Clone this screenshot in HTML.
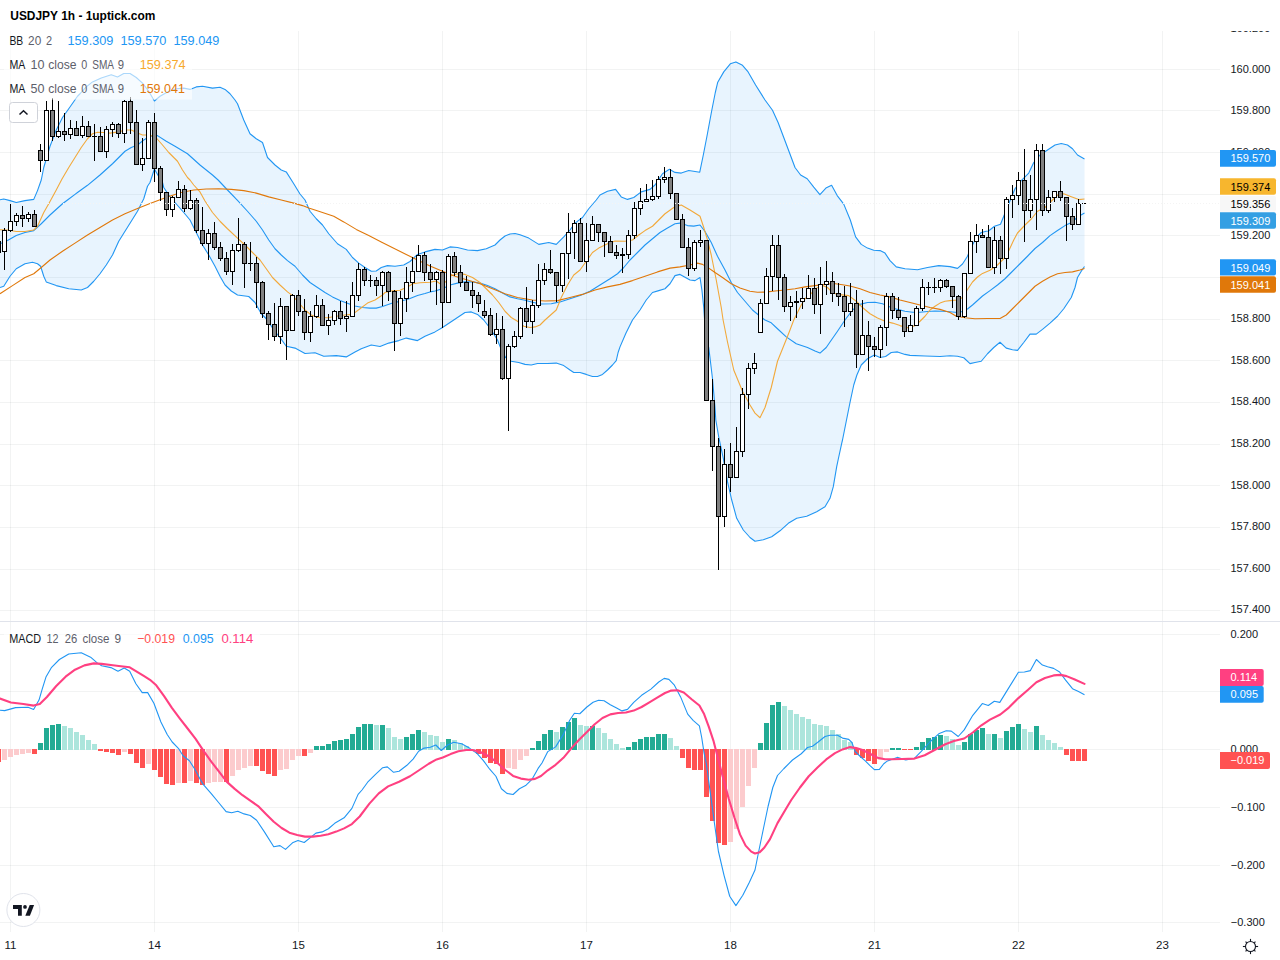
<!DOCTYPE html>
<html><head><meta charset="utf-8"><title>USDJPY 1h</title>
<style>html,body{margin:0;padding:0;background:#fff;width:1280px;height:960px;overflow:hidden;font-family:"Liberation Sans", sans-serif}</style>
</head><body>
<svg width="1280" height="960" viewBox="0 0 1280 960" style="position:absolute;left:0;top:0;font-family:"Liberation Sans", sans-serif">
<rect x="0" y="0" width="1280" height="960" fill="#ffffff"/>
<defs><clipPath id="cm"><rect x="0" y="31" width="1220" height="590"/></clipPath><clipPath id="cd"><rect x="0" y="622" width="1220" height="310"/></clipPath><clipPath id="ca"><rect x="1220" y="31" width="60" height="590"/></clipPath></defs>
<rect x="10" y="31" width="1" height="901" fill="#2a2e39" fill-opacity="0.06"/>
<rect x="154" y="31" width="1" height="901" fill="#2a2e39" fill-opacity="0.06"/>
<rect x="298" y="31" width="1" height="901" fill="#2a2e39" fill-opacity="0.06"/>
<rect x="442" y="31" width="1" height="901" fill="#2a2e39" fill-opacity="0.06"/>
<rect x="586" y="31" width="1" height="901" fill="#2a2e39" fill-opacity="0.06"/>
<rect x="730" y="31" width="1" height="901" fill="#2a2e39" fill-opacity="0.06"/>
<rect x="874" y="31" width="1" height="901" fill="#2a2e39" fill-opacity="0.06"/>
<rect x="1018" y="31" width="1" height="901" fill="#2a2e39" fill-opacity="0.06"/>
<rect x="1162" y="31" width="1" height="901" fill="#2a2e39" fill-opacity="0.06"/>
<rect x="0" y="69" width="1220" height="1" fill="#2a2e39" fill-opacity="0.06"/>
<rect x="0" y="110" width="1220" height="1" fill="#2a2e39" fill-opacity="0.06"/>
<rect x="0" y="152" width="1220" height="1" fill="#2a2e39" fill-opacity="0.06"/>
<rect x="0" y="194" width="1220" height="1" fill="#2a2e39" fill-opacity="0.06"/>
<rect x="0" y="235" width="1220" height="1" fill="#2a2e39" fill-opacity="0.06"/>
<rect x="0" y="277" width="1220" height="1" fill="#2a2e39" fill-opacity="0.06"/>
<rect x="0" y="319" width="1220" height="1" fill="#2a2e39" fill-opacity="0.06"/>
<rect x="0" y="360" width="1220" height="1" fill="#2a2e39" fill-opacity="0.06"/>
<rect x="0" y="402" width="1220" height="1" fill="#2a2e39" fill-opacity="0.06"/>
<rect x="0" y="444" width="1220" height="1" fill="#2a2e39" fill-opacity="0.06"/>
<rect x="0" y="485" width="1220" height="1" fill="#2a2e39" fill-opacity="0.06"/>
<rect x="0" y="527" width="1220" height="1" fill="#2a2e39" fill-opacity="0.06"/>
<rect x="0" y="569" width="1220" height="1" fill="#2a2e39" fill-opacity="0.06"/>
<rect x="0" y="610" width="1220" height="1" fill="#2a2e39" fill-opacity="0.06"/>
<rect x="0" y="634" width="1220" height="1" fill="#2a2e39" fill-opacity="0.06"/>
<rect x="0" y="691" width="1220" height="1" fill="#2a2e39" fill-opacity="0.06"/>
<rect x="0" y="749" width="1220" height="1" fill="#2a2e39" fill-opacity="0.06"/>
<rect x="0" y="807" width="1220" height="1" fill="#2a2e39" fill-opacity="0.06"/>
<rect x="0" y="865" width="1220" height="1" fill="#2a2e39" fill-opacity="0.06"/>
<rect x="0" y="922" width="1220" height="1" fill="#2a2e39" fill-opacity="0.06"/>
<rect x="0" y="621" width="1280" height="1" fill="#e0e3eb"/>
<g clip-path="url(#cm)">
<path d="M0.00,199.75 L3.75,199.00 L10.00,200.60 L16.25,202.50 L25.00,200.60 L33.75,199.40 L37.50,190.60 L41.25,180.00 L43.75,167.50 L50.00,146.25 L56.25,130.00 L62.50,117.50 L68.75,108.75 L77.50,96.25 L80.00,93.75 L86.25,86.90 L92.50,81.90 L101.25,78.10 L111.25,74.75 L117.50,76.90 L123.75,73.50 L130.00,73.50 L136.25,77.50 L142.50,83.10 L148.75,91.25 L154.40,101.00 L160.00,96.25 L167.50,91.90 L176.25,88.75 L183.75,88.10 L190.00,89.40 L196.25,86.90 L202.50,86.25 L212.50,88.10 L220.00,87.25 L225.00,89.40 L230.00,93.75 L235.00,100.00 L237.50,103.75 L243.75,120.00 L250.00,133.75 L256.25,138.75 L262.50,142.50 L267.50,157.50 L275.00,165.00 L281.25,170.00 L286.25,171.90 L293.75,183.75 L300.00,194.00 L305.00,200.00 L310.00,211.25 L316.25,218.75 L322.50,225.00 L328.75,233.75 L337.50,243.75 L346.25,249.40 L352.50,257.50 L358.75,263.10 L365.00,267.50 L371.25,271.25 L376.25,271.00 L381.25,267.50 L387.50,265.60 L395.00,266.25 L403.75,265.00 L410.00,261.50 L417.50,254.40 L425.00,251.90 L435.00,249.40 L442.50,250.00 L450.00,246.90 L457.50,247.50 L467.50,250.00 L477.50,250.60 L486.25,248.75 L495.00,245.00 L500.00,240.00 L505.00,236.00 L510.00,234.00 L515.00,233.50 L520.00,234.75 L528.75,238.10 L538.75,244.40 L548.75,242.50 L556.25,244.40 L563.75,236.90 L570.00,230.00 L575.00,223.10 L582.50,217.50 L588.75,208.75 L596.25,200.00 L600.00,195.00 L607.50,191.25 L615.60,189.40 L621.25,196.90 L627.50,199.40 L633.75,197.50 L641.25,191.90 L650.00,189.40 L655.00,185.00 L662.50,173.75 L669.40,169.20 L675.00,172.40 L681.25,173.10 L688.75,170.50 L699.75,172.20 L703.40,154.50 L706.90,136.50 L711.60,111.25 L715.30,92.50 L717.75,82.20 L723.75,71.90 L730.30,63.80 L735.90,61.90 L742.50,65.30 L748.10,71.90 L755.60,85.00 L765.00,100.00 L772.50,110.30 L778.10,122.50 L783.75,137.50 L789.40,152.50 L795.00,167.50 L800.60,175.00 L807.20,178.75 L813.75,187.20 L819.90,194.70 L825.90,188.10 L831.60,185.30 L837.20,195.60 L843.75,204.10 L850.30,220.00 L855.60,236.90 L861.25,244.40 L867.50,248.10 L873.75,250.25 L880.00,250.60 L885.00,253.10 L890.00,260.60 L896.25,266.90 L905.00,268.75 L917.50,269.75 L927.50,267.50 L938.75,265.60 L950.00,266.60 L957.50,268.40 L962.50,264.00 L967.50,256.25 L970.00,250.00 L973.75,242.50 L977.50,236.25 L981.25,232.50 L986.25,231.25 L988.50,231.00 L994.50,226.30 L1000.50,224.20 L1003.75,216.25 L1008.75,203.75 L1015.00,188.75 L1021.25,180.60 L1028.75,173.10 L1033.75,162.50 L1040.00,155.00 L1047.50,150.00 L1055.00,145.00 L1061.25,143.50 L1067.50,145.00 L1072.50,148.75 L1077.50,155.00 L1084.50,158.90 L1084.50,266.50 L1081.25,271.25 L1077.50,277.50 L1075.00,287.50 L1071.25,297.50 L1068.75,301.25 L1063.75,308.75 L1057.50,316.25 L1050.00,323.10 L1042.50,329.40 L1036.25,334.10 L1030.00,334.10 L1023.75,342.50 L1017.50,350.40 L1012.50,349.75 L1006.25,348.10 L1000.00,342.25 L993.75,347.50 L987.50,353.75 L981.25,361.25 L975.00,362.50 L970.00,363.60 L963.75,357.75 L957.50,356.25 L950.00,355.80 L940.00,356.50 L925.00,356.00 L910.00,355.40 L905.00,354.40 L897.50,351.90 L891.25,352.50 L885.60,356.50 L880.00,357.50 L874.40,355.00 L867.50,358.75 L861.25,365.00 L856.90,375.00 L853.75,385.00 L850.00,402.50 L846.25,421.25 L842.50,440.00 L841.70,443.30 L838.10,460.00 L836.70,466.70 L833.30,486.70 L830.00,498.30 L825.00,506.70 L816.70,511.70 L806.70,516.30 L796.70,518.30 L788.30,523.30 L780.00,530.80 L771.70,536.70 L763.30,539.70 L755.00,541.30 L750.00,537.50 L743.30,530.00 L736.70,518.30 L731.70,500.00 L727.50,481.70 L723.30,458.30 L718.75,437.00 L715.80,420.00 L715.00,407.50 L712.50,378.75 L708.75,347.50 L705.80,340.00 L705.00,326.25 L703.75,307.50 L701.90,290.00 L700.00,277.50 L695.00,280.60 L690.00,280.00 L680.00,274.40 L675.00,275.60 L670.00,283.75 L665.00,288.75 L658.75,290.60 L652.50,292.50 L646.25,300.00 L640.00,310.00 L632.50,320.00 L626.00,333.00 L620.00,346.90 L618.10,352.50 L616.25,360.60 L612.50,365.00 L607.50,370.00 L602.50,374.40 L597.50,376.50 L592.50,376.50 L586.25,374.40 L580.00,372.50 L573.75,372.50 L570.00,370.00 L563.75,365.60 L556.25,363.10 L547.50,363.50 L537.50,363.50 L531.25,365.00 L525.00,364.40 L518.75,362.50 L511.25,361.25 L505.60,357.50 L501.25,349.50 L497.50,340.00 L493.75,334.00 L488.75,326.50 L483.75,320.00 L477.50,314.40 L471.25,311.90 L465.00,312.50 L457.50,317.50 L450.00,322.50 L442.50,327.50 L435.00,331.90 L425.00,336.25 L417.50,340.60 L406.25,338.10 L398.75,340.60 L388.75,343.10 L380.00,346.50 L371.25,345.00 L361.25,348.75 L355.00,351.90 L346.25,356.90 L336.25,355.60 L323.75,356.25 L315.00,352.75 L305.00,353.50 L295.00,348.10 L286.25,346.25 L280.00,337.50 L273.75,330.00 L267.50,320.00 L261.25,313.75 L255.00,302.50 L248.75,296.50 L237.50,295.00 L231.25,291.00 L225.00,285.00 L220.00,276.25 L215.00,266.25 L208.75,255.00 L202.50,245.00 L196.25,232.50 L190.00,220.00 L183.75,212.50 L175.00,202.50 L168.75,195.00 L163.75,187.50 L162.50,182.50 L160.00,178.75 L154.40,169.00 L150.00,182.50 L147.50,186.25 L143.75,198.75 L137.50,211.25 L131.25,221.25 L125.00,231.25 L118.75,241.25 L112.50,255.00 L106.25,265.00 L100.00,273.75 L93.75,281.25 L87.50,287.50 L81.25,290.00 L68.75,288.75 L56.25,285.60 L46.25,281.90 L43.75,276.25 L40.60,266.25 L37.50,263.75 L32.50,262.25 L25.00,263.75 L16.25,268.75 L10.00,276.25 L3.75,286.25 L0.00,287.50Z" fill="#2196F3" fill-opacity="0.1" stroke="none"/>
<path d="M0.00,199.75 L3.75,199.00 L10.00,200.60 L16.25,202.50 L25.00,200.60 L33.75,199.40 L37.50,190.60 L41.25,180.00 L43.75,167.50 L50.00,146.25 L56.25,130.00 L62.50,117.50 L68.75,108.75 L77.50,96.25 L80.00,93.75 L86.25,86.90 L92.50,81.90 L101.25,78.10 L111.25,74.75 L117.50,76.90 L123.75,73.50 L130.00,73.50 L136.25,77.50 L142.50,83.10 L148.75,91.25 L154.40,101.00 L160.00,96.25 L167.50,91.90 L176.25,88.75 L183.75,88.10 L190.00,89.40 L196.25,86.90 L202.50,86.25 L212.50,88.10 L220.00,87.25 L225.00,89.40 L230.00,93.75 L235.00,100.00 L237.50,103.75 L243.75,120.00 L250.00,133.75 L256.25,138.75 L262.50,142.50 L267.50,157.50 L275.00,165.00 L281.25,170.00 L286.25,171.90 L293.75,183.75 L300.00,194.00 L305.00,200.00 L310.00,211.25 L316.25,218.75 L322.50,225.00 L328.75,233.75 L337.50,243.75 L346.25,249.40 L352.50,257.50 L358.75,263.10 L365.00,267.50 L371.25,271.25 L376.25,271.00 L381.25,267.50 L387.50,265.60 L395.00,266.25 L403.75,265.00 L410.00,261.50 L417.50,254.40 L425.00,251.90 L435.00,249.40 L442.50,250.00 L450.00,246.90 L457.50,247.50 L467.50,250.00 L477.50,250.60 L486.25,248.75 L495.00,245.00 L500.00,240.00 L505.00,236.00 L510.00,234.00 L515.00,233.50 L520.00,234.75 L528.75,238.10 L538.75,244.40 L548.75,242.50 L556.25,244.40 L563.75,236.90 L570.00,230.00 L575.00,223.10 L582.50,217.50 L588.75,208.75 L596.25,200.00 L600.00,195.00 L607.50,191.25 L615.60,189.40 L621.25,196.90 L627.50,199.40 L633.75,197.50 L641.25,191.90 L650.00,189.40 L655.00,185.00 L662.50,173.75 L669.40,169.20 L675.00,172.40 L681.25,173.10 L688.75,170.50 L699.75,172.20 L703.40,154.50 L706.90,136.50 L711.60,111.25 L715.30,92.50 L717.75,82.20 L723.75,71.90 L730.30,63.80 L735.90,61.90 L742.50,65.30 L748.10,71.90 L755.60,85.00 L765.00,100.00 L772.50,110.30 L778.10,122.50 L783.75,137.50 L789.40,152.50 L795.00,167.50 L800.60,175.00 L807.20,178.75 L813.75,187.20 L819.90,194.70 L825.90,188.10 L831.60,185.30 L837.20,195.60 L843.75,204.10 L850.30,220.00 L855.60,236.90 L861.25,244.40 L867.50,248.10 L873.75,250.25 L880.00,250.60 L885.00,253.10 L890.00,260.60 L896.25,266.90 L905.00,268.75 L917.50,269.75 L927.50,267.50 L938.75,265.60 L950.00,266.60 L957.50,268.40 L962.50,264.00 L967.50,256.25 L970.00,250.00 L973.75,242.50 L977.50,236.25 L981.25,232.50 L986.25,231.25 L988.50,231.00 L994.50,226.30 L1000.50,224.20 L1003.75,216.25 L1008.75,203.75 L1015.00,188.75 L1021.25,180.60 L1028.75,173.10 L1033.75,162.50 L1040.00,155.00 L1047.50,150.00 L1055.00,145.00 L1061.25,143.50 L1067.50,145.00 L1072.50,148.75 L1077.50,155.00 L1084.50,158.90" fill="none" stroke="#2196F3" stroke-width="1.1" stroke-linejoin="round"/>
<path d="M0.00,287.50 L3.75,286.25 L10.00,276.25 L16.25,268.75 L25.00,263.75 L32.50,262.25 L37.50,263.75 L40.60,266.25 L43.75,276.25 L46.25,281.90 L56.25,285.60 L68.75,288.75 L81.25,290.00 L87.50,287.50 L93.75,281.25 L100.00,273.75 L106.25,265.00 L112.50,255.00 L118.75,241.25 L125.00,231.25 L131.25,221.25 L137.50,211.25 L143.75,198.75 L147.50,186.25 L150.00,182.50 L154.40,169.00 L160.00,178.75 L162.50,182.50 L163.75,187.50 L168.75,195.00 L175.00,202.50 L183.75,212.50 L190.00,220.00 L196.25,232.50 L202.50,245.00 L208.75,255.00 L215.00,266.25 L220.00,276.25 L225.00,285.00 L231.25,291.00 L237.50,295.00 L248.75,296.50 L255.00,302.50 L261.25,313.75 L267.50,320.00 L273.75,330.00 L280.00,337.50 L286.25,346.25 L295.00,348.10 L305.00,353.50 L315.00,352.75 L323.75,356.25 L336.25,355.60 L346.25,356.90 L355.00,351.90 L361.25,348.75 L371.25,345.00 L380.00,346.50 L388.75,343.10 L398.75,340.60 L406.25,338.10 L417.50,340.60 L425.00,336.25 L435.00,331.90 L442.50,327.50 L450.00,322.50 L457.50,317.50 L465.00,312.50 L471.25,311.90 L477.50,314.40 L483.75,320.00 L488.75,326.50 L493.75,334.00 L497.50,340.00 L501.25,349.50 L505.60,357.50 L511.25,361.25 L518.75,362.50 L525.00,364.40 L531.25,365.00 L537.50,363.50 L547.50,363.50 L556.25,363.10 L563.75,365.60 L570.00,370.00 L573.75,372.50 L580.00,372.50 L586.25,374.40 L592.50,376.50 L597.50,376.50 L602.50,374.40 L607.50,370.00 L612.50,365.00 L616.25,360.60 L618.10,352.50 L620.00,346.90 L626.00,333.00 L632.50,320.00 L640.00,310.00 L646.25,300.00 L652.50,292.50 L658.75,290.60 L665.00,288.75 L670.00,283.75 L675.00,275.60 L680.00,274.40 L690.00,280.00 L695.00,280.60 L700.00,277.50 L701.90,290.00 L703.75,307.50 L705.00,326.25 L705.80,340.00 L708.75,347.50 L712.50,378.75 L715.00,407.50 L715.80,420.00 L718.75,437.00 L723.30,458.30 L727.50,481.70 L731.70,500.00 L736.70,518.30 L743.30,530.00 L750.00,537.50 L755.00,541.30 L763.30,539.70 L771.70,536.70 L780.00,530.80 L788.30,523.30 L796.70,518.30 L806.70,516.30 L816.70,511.70 L825.00,506.70 L830.00,498.30 L833.30,486.70 L836.70,466.70 L838.10,460.00 L841.70,443.30 L842.50,440.00 L846.25,421.25 L850.00,402.50 L853.75,385.00 L856.90,375.00 L861.25,365.00 L867.50,358.75 L874.40,355.00 L880.00,357.50 L885.60,356.50 L891.25,352.50 L897.50,351.90 L905.00,354.40 L910.00,355.40 L925.00,356.00 L940.00,356.50 L950.00,355.80 L957.50,356.25 L963.75,357.75 L970.00,363.60 L975.00,362.50 L981.25,361.25 L987.50,353.75 L993.75,347.50 L1000.00,342.25 L1006.25,348.10 L1012.50,349.75 L1017.50,350.40 L1023.75,342.50 L1030.00,334.10 L1036.25,334.10 L1042.50,329.40 L1050.00,323.10 L1057.50,316.25 L1063.75,308.75 L1068.75,301.25 L1071.25,297.50 L1075.00,287.50 L1077.50,277.50 L1081.25,271.25 L1084.50,266.50" fill="none" stroke="#2196F3" stroke-width="1.1" stroke-linejoin="round"/>
<path d="M0.00,243.75 L7.50,240.60 L16.25,235.60 L25.00,232.50 L33.75,230.60 L41.25,223.75 L50.00,215.00 L62.50,203.75 L67.50,200.00 L75.00,194.40 L77.50,192.50 L87.50,185.30 L100.00,175.00 L112.50,163.75 L125.00,151.25 L131.25,147.50 L137.50,145.00 L143.75,140.00 L150.00,136.25 L157.50,135.60 L166.25,141.25 L175.00,146.25 L187.50,153.75 L200.00,165.00 L212.50,175.00 L218.10,180.00 L227.50,190.00 L237.50,200.30 L247.50,211.25 L256.25,221.25 L262.50,230.00 L268.75,240.00 L275.00,248.75 L281.25,255.00 L287.50,260.60 L295.00,266.25 L302.50,275.00 L310.00,282.50 L317.50,287.50 L325.00,292.50 L332.50,296.90 L340.00,300.60 L348.75,303.75 L355.00,306.00 L362.50,307.50 L370.00,308.10 L376.25,308.10 L382.50,306.50 L392.50,303.10 L405.00,300.00 L410.00,298.50 L417.50,295.50 L425.00,293.50 L430.00,291.90 L435.00,291.00 L440.00,289.40 L442.50,288.75 L450.00,285.00 L457.50,283.10 L465.00,281.90 L472.50,281.90 L480.00,283.10 L487.50,285.60 L495.00,288.75 L502.50,293.10 L510.00,296.90 L517.50,298.75 L525.00,300.30 L532.50,302.30 L540.00,304.00 L551.25,303.75 L560.00,301.90 L570.00,298.75 L580.00,295.60 L590.00,291.25 L600.00,285.00 L610.00,278.75 L617.50,273.75 L623.75,267.50 L630.00,260.00 L637.50,252.50 L645.00,245.00 L652.50,238.75 L660.00,232.50 L667.50,228.00 L675.00,223.75 L680.00,223.10 L687.50,225.60 L693.75,226.10 L700.00,225.00 L705.00,231.50 L711.25,242.50 L717.50,256.25 L725.00,270.00 L731.25,282.50 L737.50,292.50 L745.00,301.25 L752.50,310.00 L760.00,316.25 L765.00,320.00 L771.25,322.80 L777.50,328.75 L786.25,336.90 L796.25,343.75 L807.50,347.50 L815.00,351.00 L820.00,353.10 L826.25,347.50 L830.00,342.00 L837.50,331.25 L845.00,320.00 L852.50,310.00 L860.00,304.40 L867.50,302.50 L875.00,302.25 L882.50,303.75 L890.00,306.90 L897.50,309.40 L905.00,311.25 L912.50,312.25 L920.00,312.25 L927.50,311.50 L935.00,311.00 L942.50,311.25 L950.00,311.70 L957.50,312.50 L962.50,311.50 L967.50,309.00 L972.50,305.00 L977.50,300.50 L982.50,296.00 L990.00,290.60 L997.50,285.00 L1005.00,278.75 L1012.50,271.25 L1020.00,263.75 L1027.50,256.25 L1035.00,248.50 L1042.50,242.50 L1050.00,235.60 L1057.50,230.50 L1065.00,225.60 L1072.50,221.90 L1077.50,217.00 L1084.50,213.00" fill="none" stroke="#2196F3" stroke-width="1.1" stroke-linejoin="round"/>
<path d="M0.00,229.75 L7.50,230.00 L16.25,231.50 L25.00,231.50 L33.75,230.00 L37.50,226.25 L43.75,212.50 L50.00,201.50 L56.25,190.00 L62.00,179.00 L68.75,167.50 L75.00,157.50 L81.25,147.50 L87.50,138.75 L92.50,133.75 L97.50,132.25 L103.75,132.50 L110.00,133.10 L118.75,131.90 L125.00,130.00 L131.25,130.00 L137.50,133.10 L142.50,135.00 L150.00,135.00 L157.00,138.75 L162.50,145.00 L168.75,152.50 L177.50,161.25 L182.50,170.00 L187.50,177.50 L190.00,180.00 L193.75,185.00 L200.00,191.90 L205.00,201.00 L212.50,212.50 L220.00,221.25 L227.50,228.75 L237.50,238.10 L245.00,245.00 L252.50,252.50 L260.00,260.00 L266.25,268.75 L272.50,277.50 L280.00,285.00 L287.50,291.90 L292.50,295.60 L297.50,301.25 L305.00,310.00 L311.25,315.00 L317.50,317.50 L327.50,317.75 L336.25,316.25 L345.00,315.00 L352.50,314.40 L360.00,308.75 L367.50,303.10 L375.00,300.00 L382.50,295.00 L385.00,292.50 L392.50,290.80 L400.00,290.30 L406.25,287.50 L410.00,285.60 L412.50,283.75 L420.00,282.80 L430.00,282.20 L436.25,281.00 L440.00,283.75 L445.00,282.50 L450.00,276.25 L457.50,273.75 L465.00,274.40 L472.50,277.50 L480.00,282.50 L486.25,288.75 L492.50,295.00 L498.75,302.50 L505.00,311.25 L511.25,317.50 L517.50,321.25 L523.75,326.25 L530.00,327.50 L535.00,326.90 L540.00,325.00 L545.00,320.00 L556.25,310.00 L561.25,297.50 L567.50,285.00 L573.75,275.00 L580.00,270.00 L586.25,261.25 L592.50,252.50 L598.75,248.10 L607.50,243.75 L615.00,241.00 L625.00,241.25 L632.50,240.00 L638.75,235.00 L645.00,230.60 L652.50,226.25 L657.50,221.25 L665.00,213.75 L673.75,207.50 L681.25,205.00 L690.00,210.00 L700.00,216.25 L703.75,227.50 L707.50,240.00 L711.25,255.00 L716.25,280.00 L721.25,307.50 L723.10,320.00 L727.50,342.00 L733.75,370.00 L742.50,391.25 L750.00,405.00 L755.00,413.10 L760.00,417.75 L765.00,407.50 L771.25,387.50 L777.50,361.25 L786.25,339.50 L790.00,330.00 L793.75,320.00 L797.50,312.50 L801.25,305.00 L805.00,298.75 L810.00,295.00 L815.00,288.75 L822.50,285.60 L827.50,287.50 L832.50,292.50 L837.50,294.40 L848.75,295.60 L856.25,301.25 L862.50,307.50 L870.00,313.75 L877.50,318.10 L885.00,321.25 L892.50,323.10 L900.00,325.60 L907.50,327.75 L915.00,325.60 L920.00,321.25 L925.00,316.25 L930.00,310.00 L935.00,306.25 L940.00,303.10 L945.00,301.25 L950.00,300.60 L957.50,300.00 L962.50,297.50 L967.50,289.50 L972.50,282.00 L977.50,277.00 L982.50,273.40 L990.00,270.20 L997.50,265.00 L1003.75,258.75 L1008.75,250.80 L1013.75,240.00 L1017.50,233.00 L1025.00,225.00 L1031.25,219.00 L1037.50,211.25 L1045.00,207.50 L1050.00,202.50 L1053.75,198.75 L1057.50,195.00 L1063.75,193.75 L1070.00,196.25 L1078.75,199.60 L1084.50,199.00" fill="none" stroke="#F2A93B" stroke-width="1.1" stroke-linejoin="round"/>
<path d="M0.00,293.75 L12.50,285.60 L25.00,277.50 L33.75,273.75 L41.25,267.50 L50.00,260.00 L62.50,251.25 L75.00,243.10 L87.50,235.00 L100.00,227.50 L112.50,220.00 L125.00,213.75 L137.50,208.50 L150.00,203.60 L160.00,199.70 L168.75,196.50 L181.25,192.50 L193.75,190.00 L206.25,189.00 L218.75,188.75 L231.25,189.40 L243.75,190.60 L256.25,193.10 L268.75,196.90 L281.25,200.00 L293.75,203.10 L302.50,205.60 L308.75,208.10 L318.75,211.25 L333.75,216.25 L343.75,221.90 L356.25,229.40 L368.75,235.60 L381.25,242.00 L393.75,248.20 L406.25,254.50 L417.50,260.00 L430.00,266.00 L442.50,271.25 L455.00,276.25 L467.50,280.00 L480.00,283.75 L492.50,288.75 L505.00,293.75 L517.50,297.50 L532.50,300.00 L545.00,301.00 L557.50,300.60 L570.00,297.50 L582.50,294.40 L595.00,290.00 L607.50,286.90 L620.00,284.40 L632.50,280.60 L645.00,276.25 L657.50,271.90 L670.00,268.10 L680.00,266.90 L690.00,265.00 L697.50,263.10 L702.50,264.40 L708.75,268.10 L715.00,272.50 L722.50,277.50 L731.25,283.75 L740.00,288.10 L750.00,291.25 L757.50,292.25 L765.00,292.10 L775.00,291.00 L785.00,290.00 L795.00,288.75 L805.00,286.90 L815.00,285.60 L825.00,284.40 L833.75,283.50 L842.50,284.70 L850.00,286.00 L860.00,288.75 L870.00,292.50 L880.00,295.00 L890.00,296.90 L900.00,300.00 L910.00,302.50 L920.00,305.00 L930.00,307.50 L940.00,309.40 L950.00,312.50 L956.25,316.25 L965.00,317.75 L975.00,318.75 L987.50,318.50 L1000.00,318.50 L1006.25,315.00 L1012.50,308.75 L1020.00,301.25 L1027.50,293.75 L1035.00,286.25 L1042.50,281.25 L1050.00,276.90 L1057.50,273.75 L1065.00,272.50 L1072.50,271.90 L1080.00,270.00 L1084.50,268.50" fill="none" stroke="#E0780A" stroke-width="1.1" stroke-linejoin="round"/>
<rect x="-2" y="241" width="1" height="12" fill="#000"/>
<rect x="-4" y="241" width="5" height="12" fill="#000"/>
<rect x="-3" y="242" width="3" height="10" fill="#808080"/>
<rect x="4" y="228" width="1" height="42" fill="#000"/>
<rect x="2" y="230" width="5" height="22" fill="#000"/>
<rect x="3" y="231" width="3" height="20" fill="#fff"/>
<rect x="10" y="204" width="1" height="28" fill="#000"/>
<rect x="8" y="221" width="5" height="10" fill="#000"/>
<rect x="9" y="222" width="3" height="8" fill="#fff"/>
<rect x="16" y="213" width="1" height="13" fill="#000"/>
<rect x="14" y="215" width="5" height="7" fill="#000"/>
<rect x="15" y="216" width="3" height="5" fill="#fff"/>
<rect x="22" y="206" width="1" height="21" fill="#000"/>
<rect x="20" y="215" width="5" height="4" fill="#000"/>
<rect x="21" y="216" width="3" height="2" fill="#808080"/>
<rect x="28" y="212" width="1" height="10" fill="#000"/>
<rect x="26" y="214" width="5" height="5" fill="#000"/>
<rect x="27" y="215" width="3" height="3" fill="#fff"/>
<rect x="34" y="210" width="1" height="17" fill="#000"/>
<rect x="32" y="214" width="5" height="13" fill="#000"/>
<rect x="33" y="215" width="3" height="11" fill="#808080"/>
<rect x="40" y="144" width="1" height="28" fill="#000"/>
<rect x="38" y="150" width="5" height="11" fill="#000"/>
<rect x="39" y="151" width="3" height="9" fill="#808080"/>
<rect x="46" y="101" width="1" height="60" fill="#000"/>
<rect x="44" y="110" width="5" height="51" fill="#000"/>
<rect x="45" y="111" width="3" height="49" fill="#fff"/>
<rect x="52" y="98" width="1" height="43" fill="#000"/>
<rect x="50" y="110" width="5" height="27" fill="#000"/>
<rect x="51" y="111" width="3" height="25" fill="#808080"/>
<rect x="58" y="101" width="1" height="37" fill="#000"/>
<rect x="56" y="131" width="5" height="6" fill="#000"/>
<rect x="57" y="132" width="3" height="4" fill="#fff"/>
<rect x="64" y="113" width="1" height="28" fill="#000"/>
<rect x="62" y="131" width="5" height="4" fill="#000"/>
<rect x="63" y="132" width="3" height="2" fill="#808080"/>
<rect x="70" y="120" width="1" height="19" fill="#000"/>
<rect x="68" y="128" width="5" height="7" fill="#000"/>
<rect x="69" y="129" width="3" height="5" fill="#fff"/>
<rect x="76" y="121" width="1" height="15" fill="#000"/>
<rect x="74" y="128" width="5" height="8" fill="#000"/>
<rect x="75" y="129" width="3" height="6" fill="#808080"/>
<rect x="82" y="116" width="1" height="22" fill="#000"/>
<rect x="80" y="126" width="5" height="10" fill="#000"/>
<rect x="81" y="127" width="3" height="8" fill="#fff"/>
<rect x="88" y="121" width="1" height="16" fill="#000"/>
<rect x="86" y="126" width="5" height="11" fill="#000"/>
<rect x="87" y="127" width="3" height="9" fill="#808080"/>
<rect x="94" y="124" width="1" height="37" fill="#000"/>
<rect x="92" y="136" width="5" height="1" fill="#000"/>
<rect x="100" y="127" width="1" height="25" fill="#000"/>
<rect x="98" y="136" width="5" height="16" fill="#000"/>
<rect x="99" y="137" width="3" height="14" fill="#808080"/>
<rect x="106" y="126" width="1" height="32" fill="#000"/>
<rect x="104" y="129" width="5" height="23" fill="#000"/>
<rect x="105" y="130" width="3" height="21" fill="#fff"/>
<rect x="112" y="122" width="1" height="15" fill="#000"/>
<rect x="110" y="124" width="5" height="6" fill="#000"/>
<rect x="111" y="125" width="3" height="4" fill="#fff"/>
<rect x="118" y="123" width="1" height="15" fill="#000"/>
<rect x="116" y="124" width="5" height="10" fill="#000"/>
<rect x="117" y="125" width="3" height="8" fill="#808080"/>
<rect x="124" y="100" width="1" height="43" fill="#000"/>
<rect x="122" y="101" width="5" height="33" fill="#000"/>
<rect x="123" y="102" width="3" height="31" fill="#fff"/>
<rect x="130" y="97" width="1" height="37" fill="#000"/>
<rect x="128" y="101" width="5" height="22" fill="#000"/>
<rect x="129" y="102" width="3" height="20" fill="#808080"/>
<rect x="136" y="110" width="1" height="55" fill="#000"/>
<rect x="134" y="122" width="5" height="43" fill="#000"/>
<rect x="135" y="123" width="3" height="41" fill="#808080"/>
<rect x="142" y="138" width="1" height="33" fill="#000"/>
<rect x="140" y="158" width="5" height="7" fill="#000"/>
<rect x="141" y="159" width="3" height="5" fill="#fff"/>
<rect x="148" y="120" width="1" height="39" fill="#000"/>
<rect x="146" y="122" width="5" height="37" fill="#000"/>
<rect x="147" y="123" width="3" height="35" fill="#fff"/>
<rect x="154" y="113" width="1" height="69" fill="#000"/>
<rect x="152" y="122" width="5" height="47" fill="#000"/>
<rect x="153" y="123" width="3" height="45" fill="#808080"/>
<rect x="160" y="166" width="1" height="35" fill="#000"/>
<rect x="158" y="168" width="5" height="25" fill="#000"/>
<rect x="159" y="169" width="3" height="23" fill="#808080"/>
<rect x="166" y="192" width="1" height="24" fill="#000"/>
<rect x="164" y="192" width="5" height="18" fill="#000"/>
<rect x="165" y="193" width="3" height="16" fill="#808080"/>
<rect x="172" y="196" width="1" height="21" fill="#000"/>
<rect x="170" y="197" width="5" height="13" fill="#000"/>
<rect x="171" y="198" width="3" height="11" fill="#fff"/>
<rect x="178" y="181" width="1" height="17" fill="#000"/>
<rect x="176" y="189" width="5" height="9" fill="#000"/>
<rect x="177" y="190" width="3" height="7" fill="#fff"/>
<rect x="184" y="185" width="1" height="27" fill="#000"/>
<rect x="182" y="189" width="5" height="20" fill="#000"/>
<rect x="183" y="190" width="3" height="18" fill="#808080"/>
<rect x="190" y="190" width="1" height="20" fill="#000"/>
<rect x="188" y="200" width="5" height="9" fill="#000"/>
<rect x="189" y="201" width="3" height="7" fill="#fff"/>
<rect x="196" y="198" width="1" height="35" fill="#000"/>
<rect x="194" y="200" width="5" height="31" fill="#000"/>
<rect x="195" y="201" width="3" height="29" fill="#808080"/>
<rect x="202" y="207" width="1" height="39" fill="#000"/>
<rect x="200" y="230" width="5" height="14" fill="#000"/>
<rect x="201" y="231" width="3" height="12" fill="#808080"/>
<rect x="208" y="229" width="1" height="31" fill="#000"/>
<rect x="206" y="233" width="5" height="11" fill="#000"/>
<rect x="207" y="234" width="3" height="9" fill="#fff"/>
<rect x="214" y="222" width="1" height="28" fill="#000"/>
<rect x="212" y="233" width="5" height="15" fill="#000"/>
<rect x="213" y="234" width="3" height="13" fill="#808080"/>
<rect x="220" y="242" width="1" height="19" fill="#000"/>
<rect x="218" y="247" width="5" height="12" fill="#000"/>
<rect x="219" y="248" width="3" height="10" fill="#808080"/>
<rect x="226" y="252" width="1" height="23" fill="#000"/>
<rect x="224" y="258" width="5" height="14" fill="#000"/>
<rect x="225" y="259" width="3" height="12" fill="#808080"/>
<rect x="232" y="244" width="1" height="41" fill="#000"/>
<rect x="230" y="250" width="5" height="22" fill="#000"/>
<rect x="231" y="251" width="3" height="20" fill="#fff"/>
<rect x="238" y="218" width="1" height="34" fill="#000"/>
<rect x="236" y="244" width="5" height="7" fill="#000"/>
<rect x="237" y="245" width="3" height="5" fill="#fff"/>
<rect x="244" y="242" width="1" height="46" fill="#000"/>
<rect x="242" y="244" width="5" height="20" fill="#000"/>
<rect x="243" y="245" width="3" height="18" fill="#808080"/>
<rect x="250" y="242" width="1" height="29" fill="#000"/>
<rect x="248" y="263" width="5" height="1" fill="#000"/>
<rect x="256" y="257" width="1" height="51" fill="#000"/>
<rect x="254" y="263" width="5" height="20" fill="#000"/>
<rect x="255" y="264" width="3" height="18" fill="#808080"/>
<rect x="262" y="281" width="1" height="37" fill="#000"/>
<rect x="260" y="282" width="5" height="32" fill="#000"/>
<rect x="261" y="283" width="3" height="30" fill="#808080"/>
<rect x="268" y="311" width="1" height="29" fill="#000"/>
<rect x="266" y="313" width="5" height="12" fill="#000"/>
<rect x="267" y="314" width="3" height="10" fill="#808080"/>
<rect x="274" y="303" width="1" height="38" fill="#000"/>
<rect x="272" y="324" width="5" height="13" fill="#000"/>
<rect x="273" y="325" width="3" height="11" fill="#808080"/>
<rect x="280" y="298" width="1" height="46" fill="#000"/>
<rect x="278" y="306" width="5" height="31" fill="#000"/>
<rect x="279" y="307" width="3" height="29" fill="#fff"/>
<rect x="286" y="306" width="1" height="54" fill="#000"/>
<rect x="284" y="306" width="5" height="25" fill="#000"/>
<rect x="285" y="307" width="3" height="23" fill="#808080"/>
<rect x="292" y="294" width="1" height="37" fill="#000"/>
<rect x="290" y="295" width="5" height="36" fill="#000"/>
<rect x="291" y="296" width="3" height="34" fill="#fff"/>
<rect x="298" y="290" width="1" height="26" fill="#000"/>
<rect x="296" y="295" width="5" height="17" fill="#000"/>
<rect x="297" y="296" width="3" height="15" fill="#808080"/>
<rect x="304" y="299" width="1" height="41" fill="#000"/>
<rect x="302" y="311" width="5" height="22" fill="#000"/>
<rect x="303" y="312" width="3" height="20" fill="#808080"/>
<rect x="310" y="311" width="1" height="31" fill="#000"/>
<rect x="308" y="316" width="5" height="17" fill="#000"/>
<rect x="309" y="317" width="3" height="15" fill="#fff"/>
<rect x="316" y="295" width="1" height="23" fill="#000"/>
<rect x="314" y="305" width="5" height="12" fill="#000"/>
<rect x="315" y="306" width="3" height="10" fill="#fff"/>
<rect x="322" y="299" width="1" height="27" fill="#000"/>
<rect x="320" y="305" width="5" height="21" fill="#000"/>
<rect x="321" y="306" width="3" height="19" fill="#808080"/>
<rect x="328" y="314" width="1" height="21" fill="#000"/>
<rect x="326" y="320" width="5" height="6" fill="#000"/>
<rect x="327" y="321" width="3" height="4" fill="#fff"/>
<rect x="334" y="310" width="1" height="15" fill="#000"/>
<rect x="332" y="311" width="5" height="10" fill="#000"/>
<rect x="333" y="312" width="3" height="8" fill="#fff"/>
<rect x="340" y="301" width="1" height="24" fill="#000"/>
<rect x="338" y="311" width="5" height="8" fill="#000"/>
<rect x="339" y="312" width="3" height="6" fill="#808080"/>
<rect x="346" y="301" width="1" height="31" fill="#000"/>
<rect x="344" y="316" width="5" height="3" fill="#000"/>
<rect x="345" y="317" width="3" height="1" fill="#fff"/>
<rect x="352" y="282" width="1" height="35" fill="#000"/>
<rect x="350" y="295" width="5" height="22" fill="#000"/>
<rect x="351" y="296" width="3" height="20" fill="#fff"/>
<rect x="358" y="263" width="1" height="38" fill="#000"/>
<rect x="356" y="269" width="5" height="27" fill="#000"/>
<rect x="357" y="270" width="3" height="25" fill="#fff"/>
<rect x="364" y="267" width="1" height="19" fill="#000"/>
<rect x="362" y="269" width="5" height="12" fill="#000"/>
<rect x="363" y="270" width="3" height="10" fill="#808080"/>
<rect x="370" y="275" width="1" height="12" fill="#000"/>
<rect x="368" y="280" width="5" height="1" fill="#000"/>
<rect x="376" y="277" width="1" height="19" fill="#000"/>
<rect x="374" y="280" width="5" height="6" fill="#000"/>
<rect x="375" y="281" width="3" height="4" fill="#808080"/>
<rect x="382" y="271" width="1" height="35" fill="#000"/>
<rect x="380" y="272" width="5" height="14" fill="#000"/>
<rect x="381" y="273" width="3" height="12" fill="#fff"/>
<rect x="388" y="271" width="1" height="30" fill="#000"/>
<rect x="386" y="272" width="5" height="20" fill="#000"/>
<rect x="387" y="273" width="3" height="18" fill="#808080"/>
<rect x="394" y="290" width="1" height="61" fill="#000"/>
<rect x="392" y="291" width="5" height="33" fill="#000"/>
<rect x="393" y="292" width="3" height="31" fill="#808080"/>
<rect x="400" y="291" width="1" height="45" fill="#000"/>
<rect x="398" y="298" width="5" height="26" fill="#000"/>
<rect x="399" y="299" width="3" height="24" fill="#fff"/>
<rect x="406" y="267" width="1" height="45" fill="#000"/>
<rect x="404" y="282" width="5" height="17" fill="#000"/>
<rect x="405" y="283" width="3" height="15" fill="#fff"/>
<rect x="412" y="257" width="1" height="35" fill="#000"/>
<rect x="410" y="271" width="5" height="12" fill="#000"/>
<rect x="411" y="272" width="3" height="10" fill="#fff"/>
<rect x="418" y="245" width="1" height="27" fill="#000"/>
<rect x="416" y="255" width="5" height="17" fill="#000"/>
<rect x="417" y="256" width="3" height="15" fill="#fff"/>
<rect x="424" y="252" width="1" height="29" fill="#000"/>
<rect x="422" y="255" width="5" height="18" fill="#000"/>
<rect x="423" y="256" width="3" height="16" fill="#808080"/>
<rect x="430" y="264" width="1" height="28" fill="#000"/>
<rect x="428" y="272" width="5" height="8" fill="#000"/>
<rect x="429" y="273" width="3" height="6" fill="#808080"/>
<rect x="436" y="271" width="1" height="34" fill="#000"/>
<rect x="434" y="272" width="5" height="8" fill="#000"/>
<rect x="435" y="273" width="3" height="6" fill="#fff"/>
<rect x="442" y="270" width="1" height="58" fill="#000"/>
<rect x="440" y="272" width="5" height="31" fill="#000"/>
<rect x="441" y="273" width="3" height="29" fill="#808080"/>
<rect x="448" y="254" width="1" height="49" fill="#000"/>
<rect x="446" y="256" width="5" height="47" fill="#000"/>
<rect x="447" y="257" width="3" height="45" fill="#fff"/>
<rect x="454" y="252" width="1" height="24" fill="#000"/>
<rect x="452" y="256" width="5" height="17" fill="#000"/>
<rect x="453" y="257" width="3" height="15" fill="#808080"/>
<rect x="460" y="265" width="1" height="22" fill="#000"/>
<rect x="458" y="272" width="5" height="11" fill="#000"/>
<rect x="459" y="273" width="3" height="9" fill="#808080"/>
<rect x="466" y="276" width="1" height="15" fill="#000"/>
<rect x="464" y="282" width="5" height="9" fill="#000"/>
<rect x="465" y="283" width="3" height="7" fill="#808080"/>
<rect x="472" y="282" width="1" height="26" fill="#000"/>
<rect x="470" y="290" width="5" height="6" fill="#000"/>
<rect x="471" y="291" width="3" height="4" fill="#808080"/>
<rect x="478" y="292" width="1" height="20" fill="#000"/>
<rect x="476" y="295" width="5" height="9" fill="#000"/>
<rect x="477" y="296" width="3" height="7" fill="#808080"/>
<rect x="484" y="300" width="1" height="18" fill="#000"/>
<rect x="482" y="311" width="5" height="5" fill="#000"/>
<rect x="483" y="312" width="3" height="3" fill="#808080"/>
<rect x="490" y="308" width="1" height="28" fill="#000"/>
<rect x="488" y="315" width="5" height="20" fill="#000"/>
<rect x="489" y="316" width="3" height="18" fill="#808080"/>
<rect x="496" y="313" width="1" height="31" fill="#000"/>
<rect x="494" y="329" width="5" height="6" fill="#000"/>
<rect x="495" y="330" width="3" height="4" fill="#fff"/>
<rect x="502" y="316" width="1" height="64" fill="#000"/>
<rect x="500" y="329" width="5" height="50" fill="#000"/>
<rect x="501" y="330" width="3" height="48" fill="#808080"/>
<rect x="508" y="344" width="1" height="87" fill="#000"/>
<rect x="506" y="346" width="5" height="33" fill="#000"/>
<rect x="507" y="347" width="3" height="31" fill="#fff"/>
<rect x="514" y="331" width="1" height="17" fill="#000"/>
<rect x="512" y="336" width="5" height="11" fill="#000"/>
<rect x="513" y="337" width="3" height="9" fill="#fff"/>
<rect x="520" y="307" width="1" height="32" fill="#000"/>
<rect x="518" y="308" width="5" height="29" fill="#000"/>
<rect x="519" y="309" width="3" height="27" fill="#fff"/>
<rect x="526" y="287" width="1" height="41" fill="#000"/>
<rect x="524" y="308" width="5" height="14" fill="#000"/>
<rect x="525" y="309" width="3" height="12" fill="#808080"/>
<rect x="532" y="300" width="1" height="34" fill="#000"/>
<rect x="530" y="305" width="5" height="17" fill="#000"/>
<rect x="531" y="306" width="3" height="15" fill="#fff"/>
<rect x="538" y="264" width="1" height="44" fill="#000"/>
<rect x="536" y="280" width="5" height="26" fill="#000"/>
<rect x="537" y="281" width="3" height="24" fill="#fff"/>
<rect x="544" y="263" width="1" height="22" fill="#000"/>
<rect x="542" y="269" width="5" height="12" fill="#000"/>
<rect x="543" y="270" width="3" height="10" fill="#fff"/>
<rect x="550" y="250" width="1" height="24" fill="#000"/>
<rect x="548" y="269" width="5" height="4" fill="#000"/>
<rect x="549" y="270" width="3" height="2" fill="#808080"/>
<rect x="556" y="272" width="1" height="30" fill="#000"/>
<rect x="554" y="272" width="5" height="14" fill="#000"/>
<rect x="555" y="273" width="3" height="12" fill="#808080"/>
<rect x="562" y="253" width="1" height="39" fill="#000"/>
<rect x="560" y="253" width="5" height="33" fill="#000"/>
<rect x="561" y="254" width="3" height="31" fill="#fff"/>
<rect x="568" y="213" width="1" height="66" fill="#000"/>
<rect x="566" y="232" width="5" height="22" fill="#000"/>
<rect x="567" y="233" width="3" height="20" fill="#fff"/>
<rect x="574" y="220" width="1" height="39" fill="#000"/>
<rect x="572" y="223" width="5" height="10" fill="#000"/>
<rect x="573" y="224" width="3" height="8" fill="#fff"/>
<rect x="580" y="218" width="1" height="44" fill="#000"/>
<rect x="578" y="223" width="5" height="39" fill="#000"/>
<rect x="579" y="224" width="3" height="37" fill="#808080"/>
<rect x="586" y="223" width="1" height="49" fill="#000"/>
<rect x="584" y="240" width="5" height="22" fill="#000"/>
<rect x="585" y="241" width="3" height="20" fill="#fff"/>
<rect x="592" y="216" width="1" height="25" fill="#000"/>
<rect x="590" y="224" width="5" height="17" fill="#000"/>
<rect x="591" y="225" width="3" height="15" fill="#fff"/>
<rect x="598" y="224" width="1" height="18" fill="#000"/>
<rect x="596" y="224" width="5" height="9" fill="#000"/>
<rect x="597" y="225" width="3" height="7" fill="#808080"/>
<rect x="604" y="232" width="1" height="25" fill="#000"/>
<rect x="602" y="232" width="5" height="10" fill="#000"/>
<rect x="603" y="233" width="3" height="8" fill="#808080"/>
<rect x="610" y="236" width="1" height="17" fill="#000"/>
<rect x="608" y="241" width="5" height="12" fill="#000"/>
<rect x="609" y="242" width="3" height="10" fill="#808080"/>
<rect x="616" y="245" width="1" height="14" fill="#000"/>
<rect x="614" y="252" width="5" height="4" fill="#000"/>
<rect x="615" y="253" width="3" height="2" fill="#808080"/>
<rect x="622" y="248" width="1" height="25" fill="#000"/>
<rect x="620" y="254" width="5" height="2" fill="#000"/>
<rect x="628" y="230" width="1" height="29" fill="#000"/>
<rect x="626" y="235" width="5" height="20" fill="#000"/>
<rect x="627" y="236" width="3" height="18" fill="#fff"/>
<rect x="634" y="202" width="1" height="37" fill="#000"/>
<rect x="632" y="208" width="5" height="28" fill="#000"/>
<rect x="633" y="209" width="3" height="26" fill="#fff"/>
<rect x="640" y="188" width="1" height="27" fill="#000"/>
<rect x="638" y="201" width="5" height="8" fill="#000"/>
<rect x="639" y="202" width="3" height="6" fill="#fff"/>
<rect x="646" y="184" width="1" height="18" fill="#000"/>
<rect x="644" y="199" width="5" height="3" fill="#000"/>
<rect x="645" y="200" width="3" height="1" fill="#fff"/>
<rect x="652" y="180" width="1" height="21" fill="#000"/>
<rect x="650" y="196" width="5" height="4" fill="#000"/>
<rect x="651" y="197" width="3" height="2" fill="#fff"/>
<rect x="658" y="176" width="1" height="23" fill="#000"/>
<rect x="656" y="179" width="5" height="18" fill="#000"/>
<rect x="657" y="180" width="3" height="16" fill="#fff"/>
<rect x="664" y="167" width="1" height="16" fill="#000"/>
<rect x="662" y="177" width="5" height="3" fill="#000"/>
<rect x="663" y="178" width="3" height="1" fill="#fff"/>
<rect x="670" y="169" width="1" height="30" fill="#000"/>
<rect x="668" y="177" width="5" height="17" fill="#000"/>
<rect x="669" y="178" width="3" height="15" fill="#808080"/>
<rect x="676" y="193" width="1" height="27" fill="#000"/>
<rect x="674" y="193" width="5" height="27" fill="#000"/>
<rect x="675" y="194" width="3" height="25" fill="#808080"/>
<rect x="682" y="214" width="1" height="34" fill="#000"/>
<rect x="680" y="219" width="5" height="29" fill="#000"/>
<rect x="681" y="220" width="3" height="27" fill="#808080"/>
<rect x="688" y="238" width="1" height="38" fill="#000"/>
<rect x="686" y="247" width="5" height="22" fill="#000"/>
<rect x="687" y="248" width="3" height="20" fill="#808080"/>
<rect x="694" y="240" width="1" height="31" fill="#000"/>
<rect x="692" y="242" width="5" height="27" fill="#000"/>
<rect x="693" y="243" width="3" height="25" fill="#fff"/>
<rect x="700" y="230" width="1" height="17" fill="#000"/>
<rect x="698" y="240" width="5" height="3" fill="#000"/>
<rect x="699" y="241" width="3" height="1" fill="#fff"/>
<rect x="706" y="240" width="1" height="161" fill="#000"/>
<rect x="704" y="240" width="5" height="161" fill="#000"/>
<rect x="705" y="241" width="3" height="159" fill="#808080"/>
<rect x="712" y="379" width="1" height="92" fill="#000"/>
<rect x="710" y="400" width="5" height="47" fill="#000"/>
<rect x="711" y="401" width="3" height="45" fill="#808080"/>
<rect x="718" y="438" width="1" height="132" fill="#000"/>
<rect x="716" y="446" width="5" height="71" fill="#000"/>
<rect x="717" y="447" width="3" height="69" fill="#808080"/>
<rect x="724" y="449" width="1" height="78" fill="#000"/>
<rect x="722" y="464" width="5" height="53" fill="#000"/>
<rect x="723" y="465" width="3" height="51" fill="#fff"/>
<rect x="730" y="443" width="1" height="49" fill="#000"/>
<rect x="728" y="464" width="5" height="14" fill="#000"/>
<rect x="729" y="465" width="3" height="12" fill="#808080"/>
<rect x="736" y="427" width="1" height="51" fill="#000"/>
<rect x="734" y="451" width="5" height="27" fill="#000"/>
<rect x="735" y="452" width="3" height="25" fill="#fff"/>
<rect x="742" y="388" width="1" height="69" fill="#000"/>
<rect x="740" y="394" width="5" height="58" fill="#000"/>
<rect x="741" y="395" width="3" height="56" fill="#fff"/>
<rect x="748" y="363" width="1" height="46" fill="#000"/>
<rect x="746" y="368" width="5" height="27" fill="#000"/>
<rect x="747" y="369" width="3" height="25" fill="#fff"/>
<rect x="754" y="353" width="1" height="21" fill="#000"/>
<rect x="752" y="363" width="5" height="6" fill="#000"/>
<rect x="753" y="364" width="3" height="4" fill="#fff"/>
<rect x="760" y="299" width="1" height="34" fill="#000"/>
<rect x="758" y="303" width="5" height="30" fill="#000"/>
<rect x="759" y="304" width="3" height="28" fill="#fff"/>
<rect x="766" y="268" width="1" height="36" fill="#000"/>
<rect x="764" y="276" width="5" height="28" fill="#000"/>
<rect x="765" y="277" width="3" height="26" fill="#fff"/>
<rect x="772" y="235" width="1" height="56" fill="#000"/>
<rect x="770" y="245" width="5" height="32" fill="#000"/>
<rect x="771" y="246" width="3" height="30" fill="#fff"/>
<rect x="778" y="235" width="1" height="65" fill="#000"/>
<rect x="776" y="245" width="5" height="33" fill="#000"/>
<rect x="777" y="246" width="3" height="31" fill="#808080"/>
<rect x="784" y="274" width="1" height="38" fill="#000"/>
<rect x="782" y="277" width="5" height="30" fill="#000"/>
<rect x="783" y="278" width="3" height="28" fill="#808080"/>
<rect x="790" y="296" width="1" height="25" fill="#000"/>
<rect x="788" y="302" width="5" height="5" fill="#000"/>
<rect x="789" y="303" width="3" height="3" fill="#fff"/>
<rect x="796" y="291" width="1" height="27" fill="#000"/>
<rect x="794" y="301" width="5" height="2" fill="#000"/>
<rect x="802" y="288" width="1" height="21" fill="#000"/>
<rect x="800" y="298" width="5" height="4" fill="#000"/>
<rect x="801" y="299" width="3" height="2" fill="#fff"/>
<rect x="808" y="275" width="1" height="24" fill="#000"/>
<rect x="806" y="288" width="5" height="11" fill="#000"/>
<rect x="807" y="289" width="3" height="9" fill="#fff"/>
<rect x="814" y="278" width="1" height="36" fill="#000"/>
<rect x="812" y="288" width="5" height="17" fill="#000"/>
<rect x="813" y="289" width="3" height="15" fill="#808080"/>
<rect x="820" y="267" width="1" height="67" fill="#000"/>
<rect x="818" y="284" width="5" height="21" fill="#000"/>
<rect x="819" y="285" width="3" height="19" fill="#fff"/>
<rect x="826" y="261" width="1" height="34" fill="#000"/>
<rect x="824" y="281" width="5" height="4" fill="#000"/>
<rect x="825" y="282" width="3" height="2" fill="#fff"/>
<rect x="832" y="272" width="1" height="30" fill="#000"/>
<rect x="830" y="281" width="5" height="13" fill="#000"/>
<rect x="831" y="282" width="3" height="11" fill="#808080"/>
<rect x="838" y="283" width="1" height="23" fill="#000"/>
<rect x="836" y="293" width="5" height="4" fill="#000"/>
<rect x="837" y="294" width="3" height="2" fill="#808080"/>
<rect x="844" y="286" width="1" height="41" fill="#000"/>
<rect x="842" y="296" width="5" height="16" fill="#000"/>
<rect x="843" y="297" width="3" height="14" fill="#808080"/>
<rect x="850" y="283" width="1" height="33" fill="#000"/>
<rect x="848" y="303" width="5" height="9" fill="#000"/>
<rect x="849" y="304" width="3" height="7" fill="#fff"/>
<rect x="856" y="290" width="1" height="78" fill="#000"/>
<rect x="854" y="303" width="5" height="52" fill="#000"/>
<rect x="855" y="304" width="3" height="50" fill="#808080"/>
<rect x="862" y="300" width="1" height="55" fill="#000"/>
<rect x="860" y="335" width="5" height="20" fill="#000"/>
<rect x="861" y="336" width="3" height="18" fill="#fff"/>
<rect x="868" y="321" width="1" height="50" fill="#000"/>
<rect x="866" y="335" width="5" height="12" fill="#000"/>
<rect x="867" y="336" width="3" height="10" fill="#808080"/>
<rect x="874" y="337" width="1" height="20" fill="#000"/>
<rect x="872" y="346" width="5" height="4" fill="#000"/>
<rect x="873" y="347" width="3" height="2" fill="#808080"/>
<rect x="880" y="325" width="1" height="33" fill="#000"/>
<rect x="878" y="327" width="5" height="23" fill="#000"/>
<rect x="879" y="328" width="3" height="21" fill="#fff"/>
<rect x="886" y="293" width="1" height="53" fill="#000"/>
<rect x="884" y="296" width="5" height="32" fill="#000"/>
<rect x="885" y="297" width="3" height="30" fill="#fff"/>
<rect x="892" y="293" width="1" height="26" fill="#000"/>
<rect x="890" y="296" width="5" height="15" fill="#000"/>
<rect x="891" y="297" width="3" height="13" fill="#808080"/>
<rect x="898" y="297" width="1" height="23" fill="#000"/>
<rect x="896" y="310" width="5" height="8" fill="#000"/>
<rect x="897" y="311" width="3" height="6" fill="#808080"/>
<rect x="904" y="317" width="1" height="20" fill="#000"/>
<rect x="902" y="317" width="5" height="15" fill="#000"/>
<rect x="903" y="318" width="3" height="13" fill="#808080"/>
<rect x="910" y="315" width="1" height="17" fill="#000"/>
<rect x="908" y="325" width="5" height="7" fill="#000"/>
<rect x="909" y="326" width="3" height="5" fill="#fff"/>
<rect x="916" y="306" width="1" height="20" fill="#000"/>
<rect x="914" y="308" width="5" height="18" fill="#000"/>
<rect x="915" y="309" width="3" height="16" fill="#fff"/>
<rect x="922" y="279" width="1" height="32" fill="#000"/>
<rect x="920" y="287" width="5" height="22" fill="#000"/>
<rect x="921" y="288" width="3" height="20" fill="#fff"/>
<rect x="928" y="282" width="1" height="13" fill="#000"/>
<rect x="926" y="287" width="5" height="1" fill="#000"/>
<rect x="934" y="278" width="1" height="15" fill="#000"/>
<rect x="932" y="287" width="5" height="1" fill="#000"/>
<rect x="940" y="279" width="1" height="13" fill="#000"/>
<rect x="938" y="280" width="5" height="8" fill="#000"/>
<rect x="939" y="281" width="3" height="6" fill="#fff"/>
<rect x="946" y="279" width="1" height="9" fill="#000"/>
<rect x="944" y="280" width="5" height="7" fill="#000"/>
<rect x="945" y="281" width="3" height="5" fill="#808080"/>
<rect x="952" y="286" width="1" height="22" fill="#000"/>
<rect x="950" y="286" width="5" height="11" fill="#000"/>
<rect x="951" y="287" width="3" height="9" fill="#808080"/>
<rect x="958" y="295" width="1" height="25" fill="#000"/>
<rect x="956" y="296" width="5" height="21" fill="#000"/>
<rect x="957" y="297" width="3" height="19" fill="#808080"/>
<rect x="964" y="273" width="1" height="45" fill="#000"/>
<rect x="962" y="273" width="5" height="44" fill="#000"/>
<rect x="963" y="274" width="3" height="42" fill="#fff"/>
<rect x="970" y="232" width="1" height="42" fill="#000"/>
<rect x="968" y="241" width="5" height="33" fill="#000"/>
<rect x="969" y="242" width="3" height="31" fill="#fff"/>
<rect x="976" y="224" width="1" height="29" fill="#000"/>
<rect x="974" y="235" width="5" height="7" fill="#000"/>
<rect x="975" y="236" width="3" height="5" fill="#fff"/>
<rect x="982" y="229" width="1" height="9" fill="#000"/>
<rect x="980" y="235" width="5" height="3" fill="#000"/>
<rect x="981" y="236" width="3" height="1" fill="#808080"/>
<rect x="988" y="225" width="1" height="43" fill="#000"/>
<rect x="986" y="237" width="5" height="31" fill="#000"/>
<rect x="987" y="238" width="3" height="29" fill="#808080"/>
<rect x="994" y="227" width="1" height="47" fill="#000"/>
<rect x="992" y="240" width="5" height="28" fill="#000"/>
<rect x="993" y="241" width="3" height="26" fill="#fff"/>
<rect x="1000" y="236" width="1" height="38" fill="#000"/>
<rect x="998" y="240" width="5" height="19" fill="#000"/>
<rect x="999" y="241" width="3" height="17" fill="#808080"/>
<rect x="1006" y="197" width="1" height="72" fill="#000"/>
<rect x="1004" y="199" width="5" height="60" fill="#000"/>
<rect x="1005" y="200" width="3" height="58" fill="#fff"/>
<rect x="1012" y="185" width="1" height="33" fill="#000"/>
<rect x="1010" y="195" width="5" height="5" fill="#000"/>
<rect x="1011" y="196" width="3" height="3" fill="#fff"/>
<rect x="1018" y="172" width="1" height="33" fill="#000"/>
<rect x="1016" y="180" width="5" height="16" fill="#000"/>
<rect x="1017" y="181" width="3" height="14" fill="#fff"/>
<rect x="1024" y="149" width="1" height="93" fill="#000"/>
<rect x="1022" y="180" width="5" height="31" fill="#000"/>
<rect x="1023" y="181" width="3" height="29" fill="#808080"/>
<rect x="1030" y="175" width="1" height="43" fill="#000"/>
<rect x="1028" y="199" width="5" height="12" fill="#000"/>
<rect x="1029" y="200" width="3" height="10" fill="#fff"/>
<rect x="1036" y="144" width="1" height="86" fill="#000"/>
<rect x="1034" y="150" width="5" height="50" fill="#000"/>
<rect x="1035" y="151" width="3" height="48" fill="#fff"/>
<rect x="1042" y="144" width="1" height="72" fill="#000"/>
<rect x="1040" y="150" width="5" height="61" fill="#000"/>
<rect x="1041" y="151" width="3" height="59" fill="#808080"/>
<rect x="1048" y="190" width="1" height="23" fill="#000"/>
<rect x="1046" y="197" width="5" height="14" fill="#000"/>
<rect x="1047" y="198" width="3" height="12" fill="#fff"/>
<rect x="1054" y="191" width="1" height="11" fill="#000"/>
<rect x="1052" y="191" width="5" height="7" fill="#000"/>
<rect x="1053" y="192" width="3" height="5" fill="#fff"/>
<rect x="1060" y="181" width="1" height="20" fill="#000"/>
<rect x="1058" y="191" width="5" height="7" fill="#000"/>
<rect x="1059" y="192" width="3" height="5" fill="#808080"/>
<rect x="1066" y="197" width="1" height="44" fill="#000"/>
<rect x="1064" y="197" width="5" height="20" fill="#000"/>
<rect x="1065" y="198" width="3" height="18" fill="#808080"/>
<rect x="1072" y="208" width="1" height="22" fill="#000"/>
<rect x="1070" y="216" width="5" height="9" fill="#000"/>
<rect x="1071" y="217" width="3" height="7" fill="#808080"/>
<rect x="1078" y="199" width="1" height="26" fill="#000"/>
<rect x="1076" y="203" width="5" height="22" fill="#000"/>
<rect x="1077" y="204" width="3" height="20" fill="#fff"/>
<rect x="1084" y="203" width="1" height="1" fill="#000"/>
<rect x="1082" y="203" width="5" height="1" fill="#000"/>
<line x1="0" y1="203.5" x2="1220" y2="203.5" stroke="#f4f4f4" stroke-width="1" stroke-dasharray="1 2"/>
</g>
<g clip-path="url(#cd)">
<rect x="-4" y="749" width="5" height="13" fill="#FF5252"/>
<rect x="2" y="749" width="5" height="11" fill="#FCCBCD"/>
<rect x="8" y="749" width="5" height="8" fill="#FCCBCD"/>
<rect x="14" y="749" width="5" height="6" fill="#FCCBCD"/>
<rect x="20" y="749" width="5" height="5" fill="#FCCBCD"/>
<rect x="26" y="749" width="5" height="4" fill="#FCCBCD"/>
<rect x="32" y="749" width="5" height="5" fill="#FF5252"/>
<rect x="38" y="743" width="5" height="7" fill="#22AB94"/>
<rect x="44" y="728" width="5" height="22" fill="#22AB94"/>
<rect x="50" y="725" width="5" height="25" fill="#22AB94"/>
<rect x="56" y="724" width="5" height="26" fill="#22AB94"/>
<rect x="62" y="726" width="5" height="24" fill="#ACE5DC"/>
<rect x="68" y="728" width="5" height="22" fill="#ACE5DC"/>
<rect x="74" y="732" width="5" height="18" fill="#ACE5DC"/>
<rect x="80" y="735" width="5" height="15" fill="#ACE5DC"/>
<rect x="86" y="740" width="5" height="10" fill="#ACE5DC"/>
<rect x="92" y="744" width="5" height="6" fill="#ACE5DC"/>
<rect x="98" y="749" width="5" height="2" fill="#FF5252"/>
<rect x="104" y="749" width="5" height="3" fill="#FF5252"/>
<rect x="110" y="749" width="5" height="4" fill="#FF5252"/>
<rect x="116" y="749" width="5" height="6" fill="#FF5252"/>
<rect x="122" y="749" width="5" height="3" fill="#FCCBCD"/>
<rect x="128" y="749" width="5" height="5" fill="#FF5252"/>
<rect x="134" y="749" width="5" height="14" fill="#FF5252"/>
<rect x="140" y="749" width="5" height="19" fill="#FF5252"/>
<rect x="146" y="749" width="5" height="15" fill="#FCCBCD"/>
<rect x="152" y="749" width="5" height="21" fill="#FF5252"/>
<rect x="158" y="749" width="5" height="28" fill="#FF5252"/>
<rect x="164" y="749" width="5" height="35" fill="#FF5252"/>
<rect x="170" y="749" width="5" height="36" fill="#FF5252"/>
<rect x="176" y="749" width="5" height="34" fill="#FCCBCD"/>
<rect x="182" y="749" width="5" height="34" fill="#FF5252"/>
<rect x="188" y="749" width="5" height="32" fill="#FCCBCD"/>
<rect x="194" y="749" width="5" height="34" fill="#FF5252"/>
<rect x="200" y="749" width="5" height="36" fill="#FF5252"/>
<rect x="206" y="749" width="5" height="34" fill="#FCCBCD"/>
<rect x="212" y="749" width="5" height="33" fill="#FCCBCD"/>
<rect x="218" y="749" width="5" height="33" fill="#FCCBCD"/>
<rect x="224" y="749" width="5" height="33" fill="#FF5252"/>
<rect x="230" y="749" width="5" height="27" fill="#FCCBCD"/>
<rect x="236" y="749" width="5" height="21" fill="#FCCBCD"/>
<rect x="242" y="749" width="5" height="19" fill="#FCCBCD"/>
<rect x="248" y="749" width="5" height="17" fill="#FCCBCD"/>
<rect x="254" y="749" width="5" height="17" fill="#FF5252"/>
<rect x="260" y="749" width="5" height="22" fill="#FF5252"/>
<rect x="266" y="749" width="5" height="25" fill="#FF5252"/>
<rect x="272" y="749" width="5" height="27" fill="#FF5252"/>
<rect x="278" y="749" width="5" height="21" fill="#FCCBCD"/>
<rect x="284" y="749" width="5" height="20" fill="#FCCBCD"/>
<rect x="290" y="749" width="5" height="11" fill="#FCCBCD"/>
<rect x="296" y="749" width="5" height="7" fill="#FCCBCD"/>
<rect x="302" y="749" width="5" height="7" fill="#FF5252"/>
<rect x="308" y="749" width="5" height="4" fill="#FCCBCD"/>
<rect x="314" y="746" width="5" height="4" fill="#22AB94"/>
<rect x="320" y="746" width="5" height="4" fill="#22AB94"/>
<rect x="326" y="744" width="5" height="6" fill="#22AB94"/>
<rect x="332" y="741" width="5" height="9" fill="#22AB94"/>
<rect x="338" y="740" width="5" height="10" fill="#22AB94"/>
<rect x="344" y="739" width="5" height="11" fill="#22AB94"/>
<rect x="350" y="734" width="5" height="16" fill="#22AB94"/>
<rect x="356" y="727" width="5" height="23" fill="#22AB94"/>
<rect x="362" y="724" width="5" height="26" fill="#22AB94"/>
<rect x="368" y="724" width="5" height="26" fill="#22AB94"/>
<rect x="374" y="725" width="5" height="25" fill="#ACE5DC"/>
<rect x="380" y="725" width="5" height="25" fill="#22AB94"/>
<rect x="386" y="728" width="5" height="22" fill="#ACE5DC"/>
<rect x="392" y="737" width="5" height="13" fill="#ACE5DC"/>
<rect x="398" y="739" width="5" height="11" fill="#ACE5DC"/>
<rect x="404" y="737" width="5" height="13" fill="#22AB94"/>
<rect x="410" y="734" width="5" height="16" fill="#22AB94"/>
<rect x="416" y="730" width="5" height="20" fill="#22AB94"/>
<rect x="422" y="732" width="5" height="18" fill="#ACE5DC"/>
<rect x="428" y="735" width="5" height="15" fill="#ACE5DC"/>
<rect x="434" y="736" width="5" height="14" fill="#ACE5DC"/>
<rect x="440" y="742" width="5" height="8" fill="#ACE5DC"/>
<rect x="446" y="739" width="5" height="11" fill="#22AB94"/>
<rect x="452" y="740" width="5" height="10" fill="#ACE5DC"/>
<rect x="458" y="743" width="5" height="7" fill="#ACE5DC"/>
<rect x="464" y="746" width="5" height="4" fill="#ACE5DC"/>
<rect x="470" y="749" width="5" height="1" fill="#ACE5DC"/>
<rect x="476" y="749" width="5" height="5" fill="#FF5252"/>
<rect x="482" y="749" width="5" height="9" fill="#FF5252"/>
<rect x="488" y="749" width="5" height="14" fill="#FF5252"/>
<rect x="494" y="749" width="5" height="15" fill="#FF5252"/>
<rect x="500" y="749" width="5" height="25" fill="#FF5252"/>
<rect x="506" y="749" width="5" height="19" fill="#FCCBCD"/>
<rect x="512" y="749" width="5" height="20" fill="#FCCBCD"/>
<rect x="518" y="749" width="5" height="11" fill="#FCCBCD"/>
<rect x="524" y="749" width="5" height="7" fill="#FCCBCD"/>
<rect x="530" y="748" width="5" height="2" fill="#22AB94"/>
<rect x="536" y="741" width="5" height="9" fill="#22AB94"/>
<rect x="542" y="734" width="5" height="16" fill="#22AB94"/>
<rect x="548" y="730" width="5" height="20" fill="#22AB94"/>
<rect x="554" y="732" width="5" height="18" fill="#ACE5DC"/>
<rect x="560" y="727" width="5" height="23" fill="#22AB94"/>
<rect x="566" y="722" width="5" height="28" fill="#22AB94"/>
<rect x="572" y="718" width="5" height="32" fill="#22AB94"/>
<rect x="578" y="725" width="5" height="25" fill="#ACE5DC"/>
<rect x="584" y="726" width="5" height="24" fill="#ACE5DC"/>
<rect x="590" y="726" width="5" height="24" fill="#22AB94"/>
<rect x="596" y="728" width="5" height="22" fill="#ACE5DC"/>
<rect x="602" y="733" width="5" height="17" fill="#ACE5DC"/>
<rect x="608" y="739" width="5" height="11" fill="#ACE5DC"/>
<rect x="614" y="744" width="5" height="6" fill="#ACE5DC"/>
<rect x="620" y="748" width="5" height="2" fill="#ACE5DC"/>
<rect x="626" y="747" width="5" height="3" fill="#22AB94"/>
<rect x="632" y="742" width="5" height="8" fill="#22AB94"/>
<rect x="638" y="739" width="5" height="11" fill="#22AB94"/>
<rect x="644" y="737" width="5" height="13" fill="#22AB94"/>
<rect x="650" y="737" width="5" height="13" fill="#22AB94"/>
<rect x="656" y="734" width="5" height="16" fill="#22AB94"/>
<rect x="662" y="734" width="5" height="16" fill="#22AB94"/>
<rect x="668" y="738" width="5" height="12" fill="#ACE5DC"/>
<rect x="674" y="746" width="5" height="4" fill="#ACE5DC"/>
<rect x="680" y="749" width="5" height="9" fill="#FF5252"/>
<rect x="686" y="749" width="5" height="19" fill="#FF5252"/>
<rect x="692" y="749" width="5" height="21" fill="#FF5252"/>
<rect x="698" y="749" width="5" height="21" fill="#FF5252"/>
<rect x="704" y="749" width="5" height="48" fill="#FF5252"/>
<rect x="710" y="749" width="5" height="72" fill="#FF5252"/>
<rect x="716" y="749" width="5" height="94" fill="#FF5252"/>
<rect x="722" y="749" width="5" height="96" fill="#FF5252"/>
<rect x="728" y="749" width="5" height="93" fill="#FCCBCD"/>
<rect x="734" y="749" width="5" height="80" fill="#FCCBCD"/>
<rect x="740" y="749" width="5" height="58" fill="#FCCBCD"/>
<rect x="746" y="749" width="5" height="37" fill="#FCCBCD"/>
<rect x="752" y="749" width="5" height="19" fill="#FCCBCD"/>
<rect x="758" y="743" width="5" height="7" fill="#22AB94"/>
<rect x="764" y="723" width="5" height="27" fill="#22AB94"/>
<rect x="770" y="705" width="5" height="45" fill="#22AB94"/>
<rect x="776" y="702" width="5" height="48" fill="#22AB94"/>
<rect x="782" y="706" width="5" height="44" fill="#ACE5DC"/>
<rect x="788" y="710" width="5" height="40" fill="#ACE5DC"/>
<rect x="794" y="714" width="5" height="36" fill="#ACE5DC"/>
<rect x="800" y="717" width="5" height="33" fill="#ACE5DC"/>
<rect x="806" y="719" width="5" height="31" fill="#ACE5DC"/>
<rect x="812" y="724" width="5" height="26" fill="#ACE5DC"/>
<rect x="818" y="725" width="5" height="25" fill="#ACE5DC"/>
<rect x="824" y="726" width="5" height="24" fill="#ACE5DC"/>
<rect x="830" y="730" width="5" height="20" fill="#ACE5DC"/>
<rect x="836" y="734" width="5" height="16" fill="#ACE5DC"/>
<rect x="842" y="740" width="5" height="10" fill="#ACE5DC"/>
<rect x="848" y="742" width="5" height="8" fill="#ACE5DC"/>
<rect x="854" y="749" width="5" height="6" fill="#FF5252"/>
<rect x="860" y="749" width="5" height="9" fill="#FF5252"/>
<rect x="866" y="749" width="5" height="12" fill="#FF5252"/>
<rect x="872" y="749" width="5" height="15" fill="#FF5252"/>
<rect x="878" y="749" width="5" height="11" fill="#FCCBCD"/>
<rect x="884" y="749" width="5" height="3" fill="#FCCBCD"/>
<rect x="890" y="748" width="5" height="2" fill="#22AB94"/>
<rect x="896" y="748" width="5" height="2" fill="#22AB94"/>
<rect x="902" y="749" width="5" height="1" fill="#FF5252"/>
<rect x="908" y="749" width="5" height="1" fill="#FF5252"/>
<rect x="914" y="747" width="5" height="3" fill="#22AB94"/>
<rect x="920" y="742" width="5" height="8" fill="#22AB94"/>
<rect x="926" y="738" width="5" height="12" fill="#22AB94"/>
<rect x="932" y="737" width="5" height="13" fill="#22AB94"/>
<rect x="938" y="735" width="5" height="15" fill="#22AB94"/>
<rect x="944" y="736" width="5" height="14" fill="#ACE5DC"/>
<rect x="950" y="739" width="5" height="11" fill="#ACE5DC"/>
<rect x="956" y="745" width="5" height="5" fill="#ACE5DC"/>
<rect x="962" y="742" width="5" height="8" fill="#22AB94"/>
<rect x="968" y="734" width="5" height="16" fill="#22AB94"/>
<rect x="974" y="730" width="5" height="20" fill="#22AB94"/>
<rect x="980" y="728" width="5" height="22" fill="#22AB94"/>
<rect x="986" y="734" width="5" height="16" fill="#ACE5DC"/>
<rect x="992" y="734" width="5" height="16" fill="#22AB94"/>
<rect x="998" y="738" width="5" height="12" fill="#ACE5DC"/>
<rect x="1004" y="731" width="5" height="19" fill="#22AB94"/>
<rect x="1010" y="727" width="5" height="23" fill="#22AB94"/>
<rect x="1016" y="724" width="5" height="26" fill="#22AB94"/>
<rect x="1022" y="729" width="5" height="21" fill="#ACE5DC"/>
<rect x="1028" y="732" width="5" height="18" fill="#ACE5DC"/>
<rect x="1034" y="726" width="5" height="24" fill="#22AB94"/>
<rect x="1040" y="735" width="5" height="15" fill="#ACE5DC"/>
<rect x="1046" y="740" width="5" height="10" fill="#ACE5DC"/>
<rect x="1052" y="743" width="5" height="7" fill="#ACE5DC"/>
<rect x="1058" y="747" width="5" height="3" fill="#ACE5DC"/>
<rect x="1064" y="749" width="5" height="6" fill="#FF5252"/>
<rect x="1070" y="749" width="5" height="12" fill="#FF5252"/>
<rect x="1076" y="749" width="5" height="12" fill="#FF5252"/>
<rect x="1082" y="749" width="5" height="12" fill="#FF5252"/>
<path d="M0.00,710.30 L4.70,710.60 L15.60,707.60 L28.10,707.20 L33.60,709.50 L39.00,700.10 L42.20,689.20 L46.10,676.70 L51.60,667.30 L59.40,659.50 L68.75,654.00 L81.25,652.80 L90.60,657.20 L96.90,662.60 L101.60,665.75 L110.90,667.60 L118.00,671.20 L124.20,668.10 L129.70,671.20 L135.90,683.70 L142.20,692.60 L147.70,692.60 L153.90,703.25 L160.90,722.00 L167.20,734.50 L172.20,742.00 L178.40,748.30 L183.10,755.70 L189.40,760.80 L195.00,769.50 L200.30,779.50 L203.40,784.60 L211.25,793.60 L219.00,803.00 L226.10,811.60 L231.60,812.80 L237.80,811.25 L244.10,813.90 L250.30,815.50 L256.60,820.20 L264.40,831.90 L273.75,846.70 L280.00,845.60 L285.50,849.40 L292.50,842.80 L298.00,840.50 L304.20,842.50 L309.70,838.10 L315.90,833.10 L322.20,831.90 L328.40,828.75 L334.70,823.30 L344.10,817.80 L351.90,808.40 L358.10,794.40 L362.00,790.00 L367.65,782.20 L375.50,774.40 L382.70,767.70 L387.30,766.90 L393.60,772.30 L399.10,771.25 L406.90,765.30 L413.10,759.10 L418.60,751.25 L424.10,748.10 L430.30,747.30 L435.80,745.00 L441.25,750.50 L447.50,745.00 L453.75,742.30 L461.60,743.75 L469.40,748.10 L477.20,753.60 L483.40,760.60 L489.70,769.20 L495.90,776.25 L501.40,788.75 L506.90,793.40 L513.10,794.50 L519.40,788.75 L525.60,785.60 L531.90,779.40 L538.10,768.40 L542.00,763.00 L547.80,751.60 L555.60,746.90 L563.40,734.40 L569.70,720.30 L574.40,713.30 L579.80,713.75 L586.90,707.00 L593.10,702.30 L598.60,700.30 L604.10,700.80 L610.30,704.70 L616.60,708.10 L622.00,710.90 L627.50,709.40 L633.75,702.30 L641.60,695.30 L650.90,689.10 L658.75,682.00 L664.20,678.40 L668.90,679.40 L674.40,685.20 L680.60,696.90 L687.70,714.10 L693.10,720.30 L699.40,725.80 L701.70,737.50 L704.10,753.10 L706.25,763.10 L710.90,796.90 L714.70,825.00 L718.40,851.25 L724.10,875.60 L729.70,896.25 L735.90,905.60 L742.80,895.30 L749.40,882.20 L755.00,870.00 L758.75,851.25 L763.40,828.75 L768.10,806.25 L772.80,787.50 L777.50,775.50 L783.75,768.75 L792.50,760.00 L801.25,753.75 L807.50,747.50 L812.50,746.25 L817.50,742.50 L825.00,736.50 L830.00,735.25 L837.50,735.25 L842.50,738.10 L848.75,739.40 L851.90,742.50 L855.00,751.25 L860.00,756.25 L865.00,760.60 L870.00,765.60 L874.40,769.60 L879.40,769.40 L883.75,763.75 L887.50,760.90 L897.20,757.40 L905.80,760.00 L914.40,758.30 L921.25,751.40 L929.80,742.00 L939.30,733.40 L946.20,730.80 L951.30,731.10 L958.20,736.50 L964.20,729.90 L972.80,715.30 L982.30,703.60 L988.30,705.50 L994.30,701.20 L999.80,702.40 L1007.20,690.40 L1018.40,672.30 L1024.40,672.00 L1030.40,670.60 L1036.40,659.50 L1042.40,665.10 L1047.60,666.80 L1053.60,668.40 L1059.60,672.00 L1065.60,680.10 L1072.50,688.70 L1078.50,691.60 L1084.50,694.70" fill="none" stroke="#2196F3" stroke-width="1.1" stroke-linejoin="round"/>
<path d="M0.00,698.60 L10.90,702.50 L23.40,704.00 L33.60,705.60 L39.80,704.00 L46.90,697.00 L56.25,686.00 L65.60,676.70 L75.00,669.70 L84.40,665.40 L93.75,663.40 L101.60,663.90 L110.90,665.00 L118.75,666.00 L129.70,667.30 L135.90,671.20 L143.75,675.90 L150.00,679.80 L156.25,685.30 L164.10,696.20 L171.90,707.90 L179.70,718.30 L187.80,728.75 L195.60,738.90 L203.40,750.60 L211.25,761.60 L219.00,771.70 L226.90,781.90 L234.70,788.90 L242.50,795.20 L250.30,800.60 L258.10,806.10 L265.90,813.90 L273.75,821.70 L281.60,828.00 L289.40,832.70 L297.20,835.00 L305.00,836.60 L312.80,836.60 L320.60,835.80 L328.40,834.20 L336.25,831.60 L344.10,828.40 L351.90,824.10 L359.70,816.50 L369.40,803.60 L378.75,793.40 L388.10,786.40 L399.10,781.70 L410.00,776.25 L419.40,770.00 L428.75,763.75 L436.60,759.40 L442.80,757.50 L450.60,754.10 L458.40,751.25 L466.25,750.00 L472.50,750.00 L480.30,752.00 L489.70,756.70 L497.50,763.00 L505.30,770.00 L513.10,775.90 L520.90,778.60 L528.75,779.70 L535.00,778.90 L541.00,776.00 L547.80,770.30 L555.60,764.80 L563.40,757.80 L571.25,748.40 L579.10,739.80 L586.90,732.00 L594.70,724.20 L602.50,718.00 L610.30,714.40 L618.10,713.00 L625.90,712.50 L633.75,710.60 L641.60,707.00 L649.40,702.30 L657.20,697.70 L665.00,693.00 L671.25,690.60 L677.50,690.30 L683.75,692.50 L691.60,699.20 L699.40,705.50 L704.10,714.10 L708.75,726.60 L713.40,740.60 L717.50,756.50 L723.10,778.10 L728.75,798.75 L734.40,817.50 L740.00,834.40 L745.60,845.60 L751.25,851.60 L755.00,853.50 L759.70,852.20 L764.40,847.50 L770.00,839.10 L777.50,823.10 L786.90,807.20 L791.25,800.00 L800.00,787.50 L808.75,776.25 L817.50,767.50 L826.25,759.40 L835.00,753.10 L842.50,749.40 L850.00,747.10 L856.25,748.10 L862.50,750.00 L870.00,753.75 L877.50,757.75 L885.00,759.20 L892.50,759.20 L902.30,759.00 L914.40,758.60 L924.70,755.20 L935.00,749.70 L945.30,744.20 L953.90,741.10 L964.20,738.50 L972.80,732.50 L981.40,725.30 L990.00,719.60 L1000.30,714.50 L1008.90,707.60 L1018.40,698.10 L1027.80,690.00 L1036.40,682.30 L1045.00,678.00 L1053.60,675.40 L1060.50,674.90 L1066.50,676.10 L1074.20,679.20 L1084.50,683.90" fill="none" stroke="#FF4081" stroke-width="2.1" stroke-linejoin="round" stroke-linecap="round"/>
</g>
<text x="10.3" y="20" font-size="12" fill="#000" font-weight="bold" text-anchor="start" textLength="145" lengthAdjust="spacingAndGlyphs" >USDJPY 1h - 1uptick.com</text>
<rect x="4" y="31" width="222" height="21" fill="#fff" fill-opacity="0.62"/>
<rect x="4" y="52" width="188" height="47.6" fill="#fff" fill-opacity="0.62"/>
<rect x="4" y="630" width="256" height="20" fill="#fff" fill-opacity="0.62"/>
<text x="9.4" y="45" font-size="12.7" fill="#131722" font-weight="normal" text-anchor="start" textLength="13.8" lengthAdjust="spacingAndGlyphs" >BB</text>
<text x="28.1" y="45" font-size="12.7" fill="#5d606b" font-weight="normal" text-anchor="start" textLength="13.1" lengthAdjust="spacingAndGlyphs" >20</text>
<text x="46" y="45" font-size="12.7" fill="#5d606b" font-weight="normal" text-anchor="start" textLength="6.1" lengthAdjust="spacingAndGlyphs" >2</text>
<text x="67.5" y="45" font-size="12.7" fill="#2196F3" font-weight="normal" text-anchor="start" textLength="45.9" lengthAdjust="spacingAndGlyphs" >159.309</text>
<text x="120.5" y="45" font-size="12.7" fill="#2196F3" font-weight="normal" text-anchor="start" textLength="45.9" lengthAdjust="spacingAndGlyphs" >159.570</text>
<text x="173.5" y="45" font-size="12.7" fill="#2196F3" font-weight="normal" text-anchor="start" textLength="45.9" lengthAdjust="spacingAndGlyphs" >159.049</text>
<text x="9.4" y="69" font-size="12.7" fill="#131722" font-weight="normal" text-anchor="start" textLength="15.9" lengthAdjust="spacingAndGlyphs" >MA</text>
<text x="30.6" y="69" font-size="12.7" fill="#5d606b" font-weight="normal" text-anchor="start" textLength="14.0" lengthAdjust="spacingAndGlyphs" >10</text>
<text x="48.2" y="69" font-size="12.7" fill="#5d606b" font-weight="normal" text-anchor="start" textLength="28.3" lengthAdjust="spacingAndGlyphs" >close</text>
<text x="81.2" y="69" font-size="12.7" fill="#5d606b" font-weight="normal" text-anchor="start" textLength="6.0" lengthAdjust="spacingAndGlyphs" >0</text>
<text x="92.25" y="69" font-size="12.7" fill="#5d606b" font-weight="normal" text-anchor="start" textLength="21.8" lengthAdjust="spacingAndGlyphs" >SMA</text>
<text x="117.75" y="69" font-size="12.7" fill="#5d606b" font-weight="normal" text-anchor="start" textLength="6.3" lengthAdjust="spacingAndGlyphs" >9</text>
<text x="9.4" y="93" font-size="12.7" fill="#131722" font-weight="normal" text-anchor="start" textLength="15.9" lengthAdjust="spacingAndGlyphs" >MA</text>
<text x="30.6" y="93" font-size="12.7" fill="#5d606b" font-weight="normal" text-anchor="start" textLength="14.0" lengthAdjust="spacingAndGlyphs" >50</text>
<text x="48.2" y="93" font-size="12.7" fill="#5d606b" font-weight="normal" text-anchor="start" textLength="28.3" lengthAdjust="spacingAndGlyphs" >close</text>
<text x="81.2" y="93" font-size="12.7" fill="#5d606b" font-weight="normal" text-anchor="start" textLength="6.0" lengthAdjust="spacingAndGlyphs" >0</text>
<text x="92.25" y="93" font-size="12.7" fill="#5d606b" font-weight="normal" text-anchor="start" textLength="21.8" lengthAdjust="spacingAndGlyphs" >SMA</text>
<text x="117.75" y="93" font-size="12.7" fill="#5d606b" font-weight="normal" text-anchor="start" textLength="6.3" lengthAdjust="spacingAndGlyphs" >9</text>
<text x="139.7" y="69" font-size="12.7" fill="#F7A92B" font-weight="normal" text-anchor="start" textLength="45.9" lengthAdjust="spacingAndGlyphs" >159.374</text>
<text x="139.7" y="93" font-size="12.7" fill="#E1780A" font-weight="normal" text-anchor="start" textLength="45.2" lengthAdjust="spacingAndGlyphs" >159.041</text>
<rect x="9.5" y="102.5" width="28" height="20" rx="3" fill="#fff" stroke="#cfd2d9" stroke-width="1"/>
<path d="M19.5,114.5 L23.5,110.7 L27.5,114.5" fill="none" stroke="#131722" stroke-width="1.5"/>
<text x="9.2" y="642.5" font-size="12.7" fill="#131722" font-weight="normal" text-anchor="start" textLength="31.9" lengthAdjust="spacingAndGlyphs" >MACD</text>
<text x="46.6" y="642.5" font-size="12.7" fill="#5d606b" font-weight="normal" text-anchor="start" textLength="12.0" lengthAdjust="spacingAndGlyphs" >12</text>
<text x="64.75" y="642.5" font-size="12.7" fill="#5d606b" font-weight="normal" text-anchor="start" textLength="12.5" lengthAdjust="spacingAndGlyphs" >26</text>
<text x="82.5" y="642.5" font-size="12.7" fill="#5d606b" font-weight="normal" text-anchor="start" textLength="26.9" lengthAdjust="spacingAndGlyphs" >close</text>
<text x="114.4" y="642.5" font-size="12.7" fill="#5d606b" font-weight="normal" text-anchor="start" textLength="6.6" lengthAdjust="spacingAndGlyphs" >9</text>
<text x="137.2" y="642.5" font-size="12.7" fill="#FF5252" font-weight="normal" text-anchor="start" textLength="37.8" lengthAdjust="spacingAndGlyphs" >−0.019</text>
<text x="182.7" y="642.5" font-size="12.7" fill="#2196F3" font-weight="normal" text-anchor="start" textLength="31" lengthAdjust="spacingAndGlyphs" >0.095</text>
<text x="221.4" y="642.5" font-size="12.7" fill="#FF4081" font-weight="normal" text-anchor="start" textLength="31.9" lengthAdjust="spacingAndGlyphs" >0.114</text>
<g clip-path="url(#ca)">
<text x="1230.5" y="32.3" font-size="11" fill="#131722" font-weight="normal" text-anchor="start" >160.200</text>
</g>
<text x="1230.5" y="72.6" font-size="11" fill="#131722" font-weight="normal" text-anchor="start" >160.000</text>
<text x="1230.5" y="114.2" font-size="11" fill="#131722" font-weight="normal" text-anchor="start" >159.800</text>
<text x="1230.5" y="155.8" font-size="11" fill="#131722" font-weight="normal" text-anchor="start" >159.600</text>
<text x="1230.5" y="239.0" font-size="11" fill="#131722" font-weight="normal" text-anchor="start" >159.200</text>
<text x="1230.5" y="322.2" font-size="11" fill="#131722" font-weight="normal" text-anchor="start" >158.800</text>
<text x="1230.5" y="363.8" font-size="11" fill="#131722" font-weight="normal" text-anchor="start" >158.600</text>
<text x="1230.5" y="405.4" font-size="11" fill="#131722" font-weight="normal" text-anchor="start" >158.400</text>
<text x="1230.5" y="447.0" font-size="11" fill="#131722" font-weight="normal" text-anchor="start" >158.200</text>
<text x="1230.5" y="488.6" font-size="11" fill="#131722" font-weight="normal" text-anchor="start" >158.000</text>
<text x="1230.5" y="530.2" font-size="11" fill="#131722" font-weight="normal" text-anchor="start" >157.800</text>
<text x="1230.5" y="571.8" font-size="11" fill="#131722" font-weight="normal" text-anchor="start" >157.600</text>
<text x="1230.5" y="613.4" font-size="11" fill="#131722" font-weight="normal" text-anchor="start" >157.400</text>
<text x="1230.5" y="637.9" font-size="11" fill="#131722" font-weight="normal" text-anchor="start" >0.200</text>
<text x="1230.5" y="752.9" font-size="11" fill="#131722" font-weight="normal" text-anchor="start" >0.000</text>
<text x="1230.8" y="810.9" font-size="11" fill="#131722" font-weight="normal" text-anchor="start" >−0.100</text>
<text x="1230.8" y="868.9" font-size="11" fill="#131722" font-weight="normal" text-anchor="start" >−0.200</text>
<text x="1230.8" y="925.9" font-size="11" fill="#131722" font-weight="normal" text-anchor="start" >−0.300</text>
<path d="M1220,150 H1274 Q1276,150 1276,152 V164.7 Q1276,166.7 1274,166.7 H1220 Z" fill="#2196F3"/>
<text x="1230.5" y="162.4" font-size="11" fill="#fff" font-weight="normal" text-anchor="start" >159.570</text>
<path d="M1220,178.3 H1274 Q1276,178.3 1276,180.3 V192.7 Q1276,194.7 1274,194.7 H1220 Z" fill="#F7B62E"/>
<text x="1230.5" y="190.7" font-size="11" fill="#000" font-weight="normal" text-anchor="start" >159.374</text>
<path d="M1220,195.8 H1274 Q1276,195.8 1276,197.8 V209.7 Q1276,211.7 1274,211.7 H1220 Z" fill="#f7f7f7"/>
<text x="1230.5" y="208.2" font-size="11" fill="#000" font-weight="normal" text-anchor="start" >159.356</text>
<path d="M1220,212.2 H1274 Q1276,212.2 1276,214.2 V226.7 Q1276,228.7 1274,228.7 H1220 Z" fill="#349FE3"/>
<text x="1230.5" y="224.6" font-size="11" fill="#fff" font-weight="normal" text-anchor="start" >159.309</text>
<path d="M1220,259.2 H1274 Q1276,259.2 1276,261.2 V273.5 Q1276,275.5 1274,275.5 H1220 Z" fill="#2196F3"/>
<text x="1230.5" y="271.6" font-size="11" fill="#fff" font-weight="normal" text-anchor="start" >159.049</text>
<path d="M1220,276.3 H1274 Q1276,276.3 1276,278.3 V290.7 Q1276,292.7 1274,292.7 H1220 Z" fill="#E0780A"/>
<text x="1230.5" y="288.7" font-size="11" fill="#fff" font-weight="normal" text-anchor="start" >159.041</text>
<path d="M1220,669 H1261.7 Q1263.7,669 1263.7,671 V684 Q1263.7,686 1261.7,686 H1220 Z" fill="#FF4081"/>
<text x="1230.5" y="681.4" font-size="11" fill="#fff" font-weight="normal" text-anchor="start" >0.114</text>
<path d="M1220,686 H1261.7 Q1263.7,686 1263.7,688 V700.8 Q1263.7,702.8 1261.7,702.8 H1220 Z" fill="#2196F3"/>
<text x="1230.5" y="698.4" font-size="11" fill="#fff" font-weight="normal" text-anchor="start" >0.095</text>
<path d="M1220,752 H1268 Q1270,752 1270,754 V767 Q1270,769 1268,769 H1220 Z" fill="#FF5252"/>
<text x="1230.5" y="764.4" font-size="11" fill="#fff" font-weight="normal" text-anchor="start" >−0.019</text>
<text x="10.5" y="949.1" font-size="11.5" fill="#131722" font-weight="normal" text-anchor="middle" >11</text>
<text x="154.5" y="949.1" font-size="11.5" fill="#131722" font-weight="normal" text-anchor="middle" >14</text>
<text x="298.5" y="949.1" font-size="11.5" fill="#131722" font-weight="normal" text-anchor="middle" >15</text>
<text x="442.5" y="949.1" font-size="11.5" fill="#131722" font-weight="normal" text-anchor="middle" >16</text>
<text x="586.5" y="949.1" font-size="11.5" fill="#131722" font-weight="normal" text-anchor="middle" >17</text>
<text x="730.5" y="949.1" font-size="11.5" fill="#131722" font-weight="normal" text-anchor="middle" >18</text>
<text x="874.5" y="949.1" font-size="11.5" fill="#131722" font-weight="normal" text-anchor="middle" >21</text>
<text x="1018.5" y="949.1" font-size="11.5" fill="#131722" font-weight="normal" text-anchor="middle" >22</text>
<text x="1162.5" y="949.1" font-size="11.5" fill="#131722" font-weight="normal" text-anchor="middle" >23</text>
<circle cx="1250.5" cy="946.5" r="5" fill="none" stroke="#131722" stroke-width="1.1"/>
<line x1="1255.80" y1="946.50" x2="1258.10" y2="946.50" stroke="#131722" stroke-width="1.1"/>
<line x1="1254.25" y1="950.25" x2="1255.45" y2="951.45" stroke="#131722" stroke-width="1.1"/>
<line x1="1250.50" y1="951.80" x2="1250.50" y2="954.10" stroke="#131722" stroke-width="1.1"/>
<line x1="1246.75" y1="950.25" x2="1245.55" y2="951.45" stroke="#131722" stroke-width="1.1"/>
<line x1="1245.20" y1="946.50" x2="1242.90" y2="946.50" stroke="#131722" stroke-width="1.1"/>
<line x1="1246.75" y1="942.75" x2="1245.55" y2="941.55" stroke="#131722" stroke-width="1.1"/>
<line x1="1250.50" y1="941.20" x2="1250.50" y2="938.90" stroke="#131722" stroke-width="1.1"/>
<line x1="1254.25" y1="942.75" x2="1255.45" y2="941.55" stroke="#131722" stroke-width="1.1"/>
<circle cx="23.4" cy="910" r="16.5" fill="#fff" stroke="#e0e3eb" stroke-width="1"/>
<path d="M13,905 H21.8 V915.7 H18 V909 H13 Z" fill="#131722"/>
<circle cx="25" cy="906.9" r="1.85" fill="#131722"/>
<path d="M29.7,905 H34.1 L29.9,915.7 H25.3 Z" fill="#131722"/>
</svg>
</body></html>
